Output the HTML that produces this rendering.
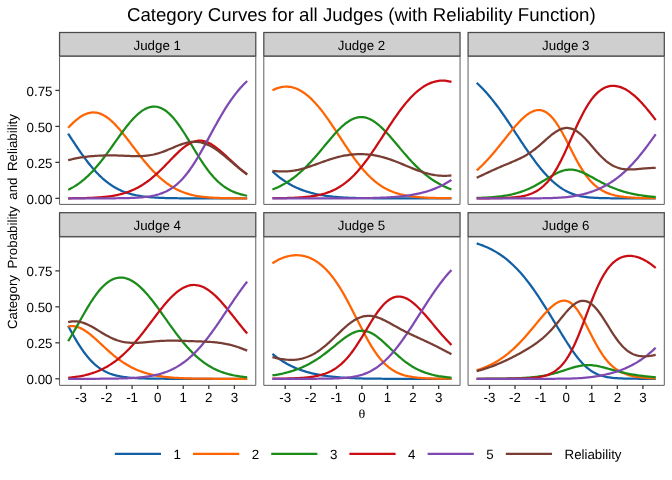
<!DOCTYPE html>
<html lang="en"><head><meta charset="utf-8"><title>Category Curves for all Judges</title>
<style>html,body{margin:0;padding:0;background:#fff}svg{display:block;will-change:transform}text{font-family:"Liberation Sans",Arial,Helvetica,sans-serif;fill:#000;text-rendering:geometricPrecision}.t{font-size:13.33px}.tk{font-size:13.33px}.c{fill:none;stroke-width:2.25;stroke-linejoin:round;stroke-linecap:butt}.th{font-family:"Liberation Serif","DejaVu Serif",serif;font-size:12.3px}</style></head><body>
<svg width="672" height="480" viewBox="0 0 672 480">
<rect width="672" height="480" fill="#fff"/>
<text x="361.3" y="20.8" text-anchor="middle" style="font-size:18.67px">Category Curves for all Judges (with Reliability Function)</text>
<text class="t" transform="translate(16.8,329.1) rotate(-90)" style="word-spacing:2.8px">Category Probability and Reliability</text>
<text class="th" transform="translate(362,418) scale(1.15,1)" text-anchor="middle">θ</text>
<rect x="59.55" y="32.5" width="196.23" height="23.56" fill="#cfcfcf" stroke="#4a4a4a" stroke-width="1.25"/>
<text class="t" x="157.27" y="49.96" text-anchor="middle">Judge 1</text>
<path class="c" stroke="#125fa4" d="M68.15 133.62 L69.43 135.60 L70.71 137.57 L71.99 139.53 L73.27 141.48 L74.55 143.42 L75.82 145.34 L77.10 147.25 L78.38 149.13 L79.66 151.00 L80.94 152.83 L82.22 154.64 L83.50 156.42 L84.78 158.16 L86.05 159.87 L87.33 161.55 L88.61 163.19 L89.89 164.79 L91.17 166.35 L92.45 167.87 L93.73 169.35 L95.01 170.79 L96.28 172.18 L97.56 173.52 L98.84 174.83 L100.12 176.08 L101.40 177.30 L102.68 178.47 L103.96 179.59 L105.24 180.67 L106.51 181.70 L107.79 182.69 L109.07 183.64 L110.35 184.54 L111.63 185.40 L112.91 186.23 L114.19 187.01 L115.47 187.75 L116.74 188.45 L118.02 189.12 L119.30 189.75 L120.58 190.35 L121.86 190.91 L123.14 191.44 L124.42 191.94 L125.70 192.41 L126.97 192.85 L128.25 193.27 L129.53 193.65 L130.81 194.02 L132.09 194.36 L133.37 194.67 L134.65 194.97 L135.93 195.24 L137.20 195.49 L138.48 195.73 L139.76 195.95 L141.04 196.15 L142.32 196.34 L143.60 196.52 L144.88 196.68 L146.16 196.83 L147.43 196.96 L148.71 197.09 L149.99 197.20 L151.27 197.31 L152.55 197.41 L153.83 197.50 L155.11 197.58 L156.39 197.65 L157.67 197.72 L158.94 197.78 L160.22 197.84 L161.50 197.89 L162.78 197.94 L164.06 197.98 L165.34 198.02 L166.62 198.05 L167.90 198.08 L169.17 198.11 L170.45 198.14 L171.73 198.16 L173.01 198.18 L174.29 198.20 L175.57 198.22 L176.85 198.23 L178.13 198.25 L179.40 198.26 L180.68 198.27 L181.96 198.28 L183.24 198.29 L184.52 198.30 L185.80 198.30 L187.08 198.31 L188.36 198.31 L189.63 198.32 L190.91 198.32 L192.19 198.33 L193.47 198.33 L194.75 198.33 L196.03 198.33 L197.31 198.34 L198.59 198.34 L199.86 198.34 L201.14 198.34 L202.42 198.34 L203.70 198.34 L204.98 198.34 L206.26 198.35 L207.54 198.35 L208.82 198.35 L210.09 198.35 L211.37 198.35 L212.65 198.35 L213.93 198.35 L215.21 198.35 L216.49 198.35 L217.77 198.35 L219.05 198.35 L220.32 198.35 L221.60 198.35 L222.88 198.35 L224.16 198.35 L225.44 198.35 L226.72 198.35 L228.00 198.35 L229.28 198.35 L230.55 198.35 L231.83 198.35 L233.11 198.35 L234.39 198.35 L235.67 198.35 L236.95 198.35 L238.23 198.35 L239.51 198.35 L240.78 198.35 L242.06 198.35 L243.34 198.35 L244.62 198.35 L245.90 198.35 L247.18 198.35"/>
<path class="c" stroke="#ff6403" d="M68.15 127.81 L69.43 126.46 L70.71 125.14 L71.99 123.87 L73.27 122.65 L74.55 121.49 L75.82 120.37 L77.10 119.32 L78.38 118.33 L79.66 117.41 L80.94 116.56 L82.22 115.78 L83.50 115.08 L84.78 114.46 L86.05 113.91 L87.33 113.45 L88.61 113.08 L89.89 112.79 L91.17 112.58 L92.45 112.47 L93.73 112.44 L95.01 112.51 L96.28 112.66 L97.56 112.91 L98.84 113.24 L100.12 113.66 L101.40 114.16 L102.68 114.76 L103.96 115.43 L105.24 116.19 L106.51 117.03 L107.79 117.94 L109.07 118.93 L110.35 119.99 L111.63 121.12 L112.91 122.31 L114.19 123.56 L115.47 124.87 L116.74 126.24 L118.02 127.65 L119.30 129.11 L120.58 130.61 L121.86 132.15 L123.14 133.73 L124.42 135.33 L125.70 136.95 L126.97 138.60 L128.25 140.26 L129.53 141.94 L130.81 143.62 L132.09 145.31 L133.37 147.00 L134.65 148.69 L135.93 150.38 L137.20 152.05 L138.48 153.71 L139.76 155.36 L141.04 156.99 L142.32 158.60 L143.60 160.18 L144.88 161.75 L146.16 163.28 L147.43 164.78 L148.71 166.26 L149.99 167.70 L151.27 169.11 L152.55 170.48 L153.83 171.82 L155.11 173.12 L156.39 174.39 L157.67 175.61 L158.94 176.80 L160.22 177.95 L161.50 179.06 L162.78 180.13 L164.06 181.17 L165.34 182.16 L166.62 183.12 L167.90 184.03 L169.17 184.91 L170.45 185.75 L171.73 186.56 L173.01 187.32 L174.29 188.05 L175.57 188.75 L176.85 189.41 L178.13 190.04 L179.40 190.63 L180.68 191.20 L181.96 191.73 L183.24 192.23 L184.52 192.70 L185.80 193.15 L187.08 193.56 L188.36 193.95 L189.63 194.32 L190.91 194.66 L192.19 194.97 L193.47 195.27 L194.75 195.54 L196.03 195.80 L197.31 196.03 L198.59 196.25 L199.86 196.45 L201.14 196.63 L202.42 196.80 L203.70 196.95 L204.98 197.09 L206.26 197.22 L207.54 197.34 L208.82 197.44 L210.09 197.54 L211.37 197.62 L212.65 197.70 L213.93 197.77 L215.21 197.84 L216.49 197.90 L217.77 197.95 L219.05 197.99 L220.32 198.03 L221.60 198.07 L222.88 198.10 L224.16 198.13 L225.44 198.16 L226.72 198.18 L228.00 198.20 L229.28 198.22 L230.55 198.24 L231.83 198.25 L233.11 198.26 L234.39 198.27 L235.67 198.28 L236.95 198.29 L238.23 198.30 L239.51 198.31 L240.78 198.31 L242.06 198.32 L243.34 198.32 L244.62 198.32 L245.90 198.33 L247.18 198.33"/>
<path class="c" stroke="#1b8c1a" d="M68.15 189.79 L69.43 189.18 L70.71 188.53 L71.99 187.85 L73.27 187.13 L74.55 186.37 L75.82 185.58 L77.10 184.74 L78.38 183.86 L79.66 182.95 L80.94 181.99 L82.22 180.98 L83.50 179.94 L84.78 178.85 L86.05 177.71 L87.33 176.54 L88.61 175.32 L89.89 174.05 L91.17 172.75 L92.45 171.40 L93.73 170.01 L95.01 168.58 L96.28 167.11 L97.56 165.60 L98.84 164.06 L100.12 162.48 L101.40 160.86 L102.68 159.22 L103.96 157.54 L105.24 155.84 L106.51 154.12 L107.79 152.37 L109.07 150.61 L110.35 148.83 L111.63 147.04 L112.91 145.25 L114.19 143.44 L115.47 141.64 L116.74 139.84 L118.02 138.05 L119.30 136.26 L120.58 134.50 L121.86 132.75 L123.14 131.02 L124.42 129.32 L125.70 127.66 L126.97 126.02 L128.25 124.43 L129.53 122.89 L130.81 121.39 L132.09 119.94 L133.37 118.55 L134.65 117.21 L135.93 115.95 L137.20 114.74 L138.48 113.61 L139.76 112.56 L141.04 111.57 L142.32 110.67 L143.60 109.86 L144.88 109.12 L146.16 108.48 L147.43 107.93 L148.71 107.47 L149.99 107.10 L151.27 106.83 L152.55 106.66 L153.83 106.59 L155.11 106.62 L156.39 106.75 L157.67 106.98 L158.94 107.32 L160.22 107.75 L161.50 108.29 L162.78 108.94 L164.06 109.68 L165.34 110.52 L166.62 111.47 L167.90 112.51 L169.17 113.64 L170.45 114.87 L171.73 116.19 L173.01 117.60 L174.29 119.09 L175.57 120.66 L176.85 122.30 L178.13 124.02 L179.40 125.80 L180.68 127.65 L181.96 129.55 L183.24 131.50 L184.52 133.49 L185.80 135.52 L187.08 137.59 L188.36 139.68 L189.63 141.78 L190.91 143.90 L192.19 146.02 L193.47 148.15 L194.75 150.26 L196.03 152.36 L197.31 154.44 L198.59 156.49 L199.86 158.51 L201.14 160.49 L202.42 162.44 L203.70 164.33 L204.98 166.18 L206.26 167.97 L207.54 169.71 L208.82 171.38 L210.09 173.00 L211.37 174.55 L212.65 176.04 L213.93 177.47 L215.21 178.83 L216.49 180.12 L217.77 181.35 L219.05 182.52 L220.32 183.62 L221.60 184.67 L222.88 185.65 L224.16 186.58 L225.44 187.45 L226.72 188.27 L228.00 189.03 L229.28 189.74 L230.55 190.41 L231.83 191.03 L233.11 191.61 L234.39 192.15 L235.67 192.65 L236.95 193.11 L238.23 193.54 L239.51 193.94 L240.78 194.30 L242.06 194.64 L243.34 194.95 L244.62 195.24 L245.90 195.51 L247.18 195.75"/>
<path class="c" stroke="#c90d13" d="M68.15 198.28 L69.43 198.27 L70.71 198.26 L71.99 198.25 L73.27 198.23 L74.55 198.22 L75.82 198.21 L77.10 198.19 L78.38 198.17 L79.66 198.15 L80.94 198.12 L82.22 198.10 L83.50 198.07 L84.78 198.04 L86.05 198.00 L87.33 197.96 L88.61 197.92 L89.89 197.87 L91.17 197.82 L92.45 197.76 L93.73 197.70 L95.01 197.64 L96.28 197.56 L97.56 197.48 L98.84 197.39 L100.12 197.30 L101.40 197.20 L102.68 197.08 L103.96 196.96 L105.24 196.83 L106.51 196.69 L107.79 196.53 L109.07 196.36 L110.35 196.19 L111.63 195.99 L112.91 195.78 L114.19 195.56 L115.47 195.32 L116.74 195.07 L118.02 194.79 L119.30 194.50 L120.58 194.19 L121.86 193.85 L123.14 193.50 L124.42 193.12 L125.70 192.72 L126.97 192.29 L128.25 191.84 L129.53 191.37 L130.81 190.86 L132.09 190.33 L133.37 189.77 L134.65 189.18 L135.93 188.56 L137.20 187.91 L138.48 187.22 L139.76 186.50 L141.04 185.75 L142.32 184.97 L143.60 184.15 L144.88 183.30 L146.16 182.42 L147.43 181.50 L148.71 180.54 L149.99 179.56 L151.27 178.53 L152.55 177.48 L153.83 176.39 L155.11 175.27 L156.39 174.12 L157.67 172.95 L158.94 171.74 L160.22 170.51 L161.50 169.26 L162.78 167.99 L164.06 166.69 L165.34 165.39 L166.62 164.07 L167.90 162.74 L169.17 161.41 L170.45 160.08 L171.73 158.76 L173.01 157.44 L174.29 156.13 L175.57 154.85 L176.85 153.59 L178.13 152.35 L179.40 151.16 L180.68 150.00 L181.96 148.89 L183.24 147.82 L184.52 146.82 L185.80 145.87 L187.08 144.99 L188.36 144.19 L189.63 143.45 L190.91 142.80 L192.19 142.23 L193.47 141.75 L194.75 141.35 L196.03 141.04 L197.31 140.83 L198.59 140.70 L199.86 140.67 L201.14 140.74 L202.42 140.89 L203.70 141.13 L204.98 141.46 L206.26 141.88 L207.54 142.37 L208.82 142.95 L210.09 143.60 L211.37 144.32 L212.65 145.10 L213.93 145.95 L215.21 146.85 L216.49 147.80 L217.77 148.80 L219.05 149.83 L220.32 150.91 L221.60 152.01 L222.88 153.14 L224.16 154.29 L225.44 155.45 L226.72 156.63 L228.00 157.81 L229.28 159.00 L230.55 160.19 L231.83 161.38 L233.11 162.55 L234.39 163.72 L235.67 164.88 L236.95 166.02 L238.23 167.14 L239.51 168.25 L240.78 169.34 L242.06 170.40 L243.34 171.44 L244.62 172.46 L245.90 173.45 L247.18 174.42"/>
<path class="c" stroke="#7e4ab2" d="M68.15 198.35 L69.43 198.35 L70.71 198.35 L71.99 198.35 L73.27 198.35 L74.55 198.35 L75.82 198.35 L77.10 198.35 L78.38 198.35 L79.66 198.35 L80.94 198.35 L82.22 198.35 L83.50 198.35 L84.78 198.35 L86.05 198.35 L87.33 198.35 L88.61 198.35 L89.89 198.35 L91.17 198.34 L92.45 198.34 L93.73 198.34 L95.01 198.34 L96.28 198.34 L97.56 198.34 L98.84 198.34 L100.12 198.33 L101.40 198.33 L102.68 198.33 L103.96 198.32 L105.24 198.32 L106.51 198.32 L107.79 198.31 L109.07 198.31 L110.35 198.30 L111.63 198.29 L112.91 198.28 L114.19 198.27 L115.47 198.26 L116.74 198.25 L118.02 198.24 L119.30 198.22 L120.58 198.21 L121.86 198.19 L123.14 198.16 L124.42 198.14 L125.70 198.11 L126.97 198.08 L128.25 198.04 L129.53 198.01 L130.81 197.96 L132.09 197.91 L133.37 197.86 L134.65 197.80 L135.93 197.73 L137.20 197.66 L138.48 197.57 L139.76 197.48 L141.04 197.38 L142.32 197.26 L143.60 197.14 L144.88 197.00 L146.16 196.85 L147.43 196.68 L148.71 196.49 L149.99 196.29 L151.27 196.06 L152.55 195.82 L153.83 195.55 L155.11 195.26 L156.39 194.94 L157.67 194.59 L158.94 194.21 L160.22 193.79 L161.50 193.34 L162.78 192.86 L164.06 192.33 L165.34 191.76 L166.62 191.15 L167.90 190.48 L169.17 189.77 L170.45 189.01 L171.73 188.19 L173.01 187.31 L174.29 186.38 L175.57 185.38 L176.85 184.32 L178.13 183.19 L179.40 182.00 L180.68 180.74 L181.96 179.41 L183.24 178.01 L184.52 176.54 L185.80 175.01 L187.08 173.40 L188.36 171.72 L189.63 169.98 L190.91 168.17 L192.19 166.29 L193.47 164.36 L194.75 162.37 L196.03 160.32 L197.31 158.22 L198.59 156.07 L199.86 153.88 L201.14 151.65 L202.42 149.38 L203.70 147.09 L204.98 144.77 L206.26 142.44 L207.54 140.09 L208.82 137.73 L210.09 135.37 L211.37 133.01 L212.65 130.66 L213.93 128.32 L215.21 125.99 L216.49 123.69 L217.77 121.41 L219.05 119.16 L220.32 116.94 L221.60 114.75 L222.88 112.61 L224.16 110.50 L225.44 108.44 L226.72 106.42 L228.00 104.45 L229.28 102.53 L230.55 100.66 L231.83 98.84 L233.11 97.07 L234.39 95.36 L235.67 93.69 L236.95 92.08 L238.23 90.52 L239.51 89.01 L240.78 87.55 L242.06 86.14 L243.34 84.78 L244.62 83.47 L245.90 82.21 L247.18 81.00"/>
<path class="c" stroke="#783d33" d="M68.15 160.28 L69.43 159.93 L70.71 159.59 L71.99 159.27 L73.27 158.97 L74.55 158.68 L75.82 158.41 L77.10 158.16 L78.38 157.92 L79.66 157.69 L80.94 157.48 L82.22 157.28 L83.50 157.10 L84.78 156.92 L86.05 156.76 L87.33 156.61 L88.61 156.47 L89.89 156.34 L91.17 156.22 L92.45 156.11 L93.73 156.01 L95.01 155.92 L96.28 155.83 L97.56 155.75 L98.84 155.69 L100.12 155.63 L101.40 155.57 L102.68 155.53 L103.96 155.49 L105.24 155.46 L106.51 155.43 L107.79 155.42 L109.07 155.41 L110.35 155.40 L111.63 155.41 L112.91 155.42 L114.19 155.44 L115.47 155.46 L116.74 155.49 L118.02 155.52 L119.30 155.56 L120.58 155.61 L121.86 155.66 L123.14 155.71 L124.42 155.76 L125.70 155.81 L126.97 155.87 L128.25 155.92 L129.53 155.97 L130.81 156.02 L132.09 156.06 L133.37 156.09 L134.65 156.12 L135.93 156.14 L137.20 156.14 L138.48 156.13 L139.76 156.11 L141.04 156.07 L142.32 156.02 L143.60 155.94 L144.88 155.85 L146.16 155.73 L147.43 155.59 L148.71 155.42 L149.99 155.23 L151.27 155.01 L152.55 154.76 L153.83 154.49 L155.11 154.19 L156.39 153.86 L157.67 153.50 L158.94 153.12 L160.22 152.71 L161.50 152.28 L162.78 151.83 L164.06 151.36 L165.34 150.86 L166.62 150.35 L167.90 149.83 L169.17 149.30 L170.45 148.76 L171.73 148.21 L173.01 147.67 L174.29 147.12 L175.57 146.58 L176.85 146.06 L178.13 145.55 L179.40 145.05 L180.68 144.58 L181.96 144.13 L183.24 143.71 L184.52 143.32 L185.80 142.97 L187.08 142.66 L188.36 142.39 L189.63 142.17 L190.91 141.99 L192.19 141.86 L193.47 141.78 L194.75 141.76 L196.03 141.79 L197.31 141.88 L198.59 142.02 L199.86 142.23 L201.14 142.48 L202.42 142.80 L203.70 143.18 L204.98 143.61 L206.26 144.09 L207.54 144.63 L208.82 145.23 L210.09 145.87 L211.37 146.57 L212.65 147.31 L213.93 148.09 L215.21 148.92 L216.49 149.79 L217.77 150.69 L219.05 151.63 L220.32 152.59 L221.60 153.59 L222.88 154.60 L224.16 155.64 L225.44 156.70 L226.72 157.77 L228.00 158.85 L229.28 159.93 L230.55 161.03 L231.83 162.12 L233.11 163.21 L234.39 164.30 L235.67 165.38 L236.95 166.46 L238.23 167.52 L239.51 168.57 L240.78 169.60 L242.06 170.62 L243.34 171.62 L244.62 172.60 L245.90 173.56 L247.18 174.50"/>
<path d="M59.55 56.36V204.4H255.78V56.36Z" fill="none" stroke="#5e5e5e" stroke-width="1"/>
<path d="M55.35 198.35H59.55" stroke="#383838" stroke-width="1.3" fill="none"/>
<text class="tk" x="52.5" y="203.85" text-anchor="end">0.00</text>
<path d="M55.35 162.38H59.55" stroke="#383838" stroke-width="1.3" fill="none"/>
<text class="tk" x="52.5" y="167.88" text-anchor="end">0.25</text>
<path d="M55.35 126.4H59.55" stroke="#383838" stroke-width="1.3" fill="none"/>
<text class="tk" x="52.5" y="131.9" text-anchor="end">0.50</text>
<path d="M55.35 90.42H59.55" stroke="#383838" stroke-width="1.3" fill="none"/>
<text class="tk" x="52.5" y="95.92" text-anchor="end">0.75</text>
<rect x="263.81" y="32.5" width="196.23" height="23.56" fill="#cfcfcf" stroke="#4a4a4a" stroke-width="1.25"/>
<text class="t" x="361.53" y="49.96" text-anchor="middle">Judge 2</text>
<path class="c" stroke="#125fa4" d="M272.41 171.34 L273.69 172.51 L274.97 173.63 L276.25 174.73 L277.53 175.78 L278.81 176.81 L280.08 177.79 L281.36 178.75 L282.64 179.67 L283.92 180.55 L285.20 181.41 L286.48 182.23 L287.76 183.02 L289.04 183.79 L290.31 184.52 L291.59 185.22 L292.87 185.90 L294.15 186.54 L295.43 187.16 L296.71 187.76 L297.99 188.32 L299.27 188.87 L300.54 189.39 L301.82 189.88 L303.10 190.36 L304.38 190.81 L305.66 191.24 L306.94 191.65 L308.22 192.05 L309.50 192.42 L310.77 192.77 L312.05 193.11 L313.33 193.43 L314.61 193.74 L315.89 194.03 L317.17 194.30 L318.45 194.56 L319.73 194.80 L321.00 195.04 L322.28 195.26 L323.56 195.46 L324.84 195.66 L326.12 195.85 L327.40 196.02 L328.68 196.18 L329.96 196.34 L331.23 196.48 L332.51 196.62 L333.79 196.75 L335.07 196.87 L336.35 196.98 L337.63 197.08 L338.91 197.18 L340.19 197.27 L341.46 197.36 L342.74 197.44 L344.02 197.51 L345.30 197.58 L346.58 197.65 L347.86 197.71 L349.14 197.76 L350.42 197.81 L351.69 197.86 L352.97 197.90 L354.25 197.94 L355.53 197.98 L356.81 198.01 L358.09 198.04 L359.37 198.07 L360.65 198.10 L361.93 198.12 L363.20 198.14 L364.48 198.16 L365.76 198.18 L367.04 198.20 L368.32 198.21 L369.60 198.23 L370.88 198.24 L372.16 198.25 L373.43 198.26 L374.71 198.27 L375.99 198.28 L377.27 198.29 L378.55 198.29 L379.83 198.30 L381.11 198.31 L382.39 198.31 L383.66 198.31 L384.94 198.32 L386.22 198.32 L387.50 198.33 L388.78 198.33 L390.06 198.33 L391.34 198.33 L392.62 198.34 L393.89 198.34 L395.17 198.34 L396.45 198.34 L397.73 198.34 L399.01 198.34 L400.29 198.34 L401.57 198.34 L402.85 198.34 L404.12 198.35 L405.40 198.35 L406.68 198.35 L407.96 198.35 L409.24 198.35 L410.52 198.35 L411.80 198.35 L413.08 198.35 L414.35 198.35 L415.63 198.35 L416.91 198.35 L418.19 198.35 L419.47 198.35 L420.75 198.35 L422.03 198.35 L423.31 198.35 L424.58 198.35 L425.86 198.35 L427.14 198.35 L428.42 198.35 L429.70 198.35 L430.98 198.35 L432.26 198.35 L433.54 198.35 L434.81 198.35 L436.09 198.35 L437.37 198.35 L438.65 198.35 L439.93 198.35 L441.21 198.35 L442.49 198.35 L443.77 198.35 L445.04 198.35 L446.32 198.35 L447.60 198.35 L448.88 198.35 L450.16 198.35 L451.44 198.35"/>
<path class="c" stroke="#ff6403" d="M272.41 90.35 L273.69 89.70 L274.97 89.12 L276.25 88.59 L277.53 88.13 L278.81 87.73 L280.08 87.39 L281.36 87.11 L282.64 86.90 L283.92 86.75 L285.20 86.66 L286.48 86.64 L287.76 86.69 L289.04 86.79 L290.31 86.97 L291.59 87.20 L292.87 87.51 L294.15 87.87 L295.43 88.30 L296.71 88.80 L297.99 89.36 L299.27 89.98 L300.54 90.67 L301.82 91.42 L303.10 92.24 L304.38 93.12 L305.66 94.05 L306.94 95.05 L308.22 96.11 L309.50 97.23 L310.77 98.41 L312.05 99.65 L313.33 100.94 L314.61 102.29 L315.89 103.69 L317.17 105.14 L318.45 106.64 L319.73 108.19 L321.00 109.78 L322.28 111.42 L323.56 113.10 L324.84 114.82 L326.12 116.58 L327.40 118.37 L328.68 120.19 L329.96 122.04 L331.23 123.91 L332.51 125.81 L333.79 127.73 L335.07 129.66 L336.35 131.60 L337.63 133.56 L338.91 135.52 L340.19 137.48 L341.46 139.44 L342.74 141.40 L344.02 143.35 L345.30 145.29 L346.58 147.21 L347.86 149.12 L349.14 151.00 L350.42 152.87 L351.69 154.71 L352.97 156.52 L354.25 158.29 L355.53 160.04 L356.81 161.75 L358.09 163.42 L359.37 165.05 L360.65 166.64 L361.93 168.19 L363.20 169.70 L364.48 171.16 L365.76 172.57 L367.04 173.94 L368.32 175.26 L369.60 176.53 L370.88 177.76 L372.16 178.93 L373.43 180.06 L374.71 181.15 L375.99 182.18 L377.27 183.17 L378.55 184.11 L379.83 185.01 L381.11 185.87 L382.39 186.68 L383.66 187.45 L384.94 188.18 L386.22 188.87 L387.50 189.52 L388.78 190.14 L390.06 190.71 L391.34 191.26 L392.62 191.77 L393.89 192.25 L395.17 192.70 L396.45 193.12 L397.73 193.52 L399.01 193.89 L400.29 194.23 L401.57 194.55 L402.85 194.85 L404.12 195.13 L405.40 195.38 L406.68 195.62 L407.96 195.84 L409.24 196.05 L410.52 196.24 L411.80 196.41 L413.08 196.58 L414.35 196.73 L415.63 196.86 L416.91 196.99 L418.19 197.11 L419.47 197.22 L420.75 197.31 L422.03 197.40 L423.31 197.49 L424.58 197.56 L425.86 197.63 L427.14 197.70 L428.42 197.76 L429.70 197.81 L430.98 197.86 L432.26 197.90 L433.54 197.95 L434.81 197.98 L436.09 198.02 L437.37 198.05 L438.65 198.08 L439.93 198.10 L441.21 198.13 L442.49 198.15 L443.77 198.17 L445.04 198.18 L446.32 198.20 L447.60 198.21 L448.88 198.23 L450.16 198.24 L451.44 198.25"/>
<path class="c" stroke="#1b8c1a" d="M272.41 189.56 L273.69 189.06 L274.97 188.53 L276.25 187.98 L277.53 187.40 L278.81 186.79 L280.08 186.17 L281.36 185.51 L282.64 184.82 L283.92 184.11 L285.20 183.37 L286.48 182.60 L287.76 181.80 L289.04 180.97 L290.31 180.10 L291.59 179.21 L292.87 178.28 L294.15 177.32 L295.43 176.33 L296.71 175.31 L297.99 174.25 L299.27 173.16 L300.54 172.03 L301.82 170.88 L303.10 169.69 L304.38 168.47 L305.66 167.22 L306.94 165.94 L308.22 164.62 L309.50 163.28 L310.77 161.91 L312.05 160.52 L313.33 159.10 L314.61 157.66 L315.89 156.20 L317.17 154.71 L318.45 153.22 L319.73 151.70 L321.00 150.18 L322.28 148.65 L323.56 147.11 L324.84 145.57 L326.12 144.03 L327.40 142.49 L328.68 140.97 L329.96 139.45 L331.23 137.95 L332.51 136.48 L333.79 135.02 L335.07 133.60 L336.35 132.20 L337.63 130.85 L338.91 129.53 L340.19 128.26 L341.46 127.04 L342.74 125.88 L344.02 124.77 L345.30 123.72 L346.58 122.74 L347.86 121.83 L349.14 120.99 L350.42 120.22 L351.69 119.54 L352.97 118.93 L354.25 118.41 L355.53 117.97 L356.81 117.62 L358.09 117.36 L359.37 117.19 L360.65 117.10 L361.93 117.11 L363.20 117.20 L364.48 117.39 L365.76 117.66 L367.04 118.03 L368.32 118.47 L369.60 119.01 L370.88 119.62 L372.16 120.32 L373.43 121.09 L374.71 121.94 L375.99 122.85 L377.27 123.84 L378.55 124.89 L379.83 126.00 L381.11 127.16 L382.39 128.38 L383.66 129.65 L384.94 130.96 L386.22 132.31 L387.50 133.69 L388.78 135.11 L390.06 136.56 L391.34 138.02 L392.62 139.51 L393.89 141.01 L395.17 142.52 L396.45 144.04 L397.73 145.56 L399.01 147.09 L400.29 148.61 L401.57 150.12 L402.85 151.63 L404.12 153.12 L405.40 154.60 L406.68 156.06 L407.96 157.50 L409.24 158.92 L410.52 160.32 L411.80 161.69 L413.08 163.04 L414.35 164.36 L415.63 165.65 L416.91 166.91 L418.19 168.14 L419.47 169.34 L420.75 170.51 L422.03 171.65 L423.31 172.76 L424.58 173.83 L425.86 174.87 L427.14 175.88 L428.42 176.86 L429.70 177.80 L430.98 178.71 L432.26 179.60 L433.54 180.45 L434.81 181.27 L436.09 182.06 L437.37 182.82 L438.65 183.55 L439.93 184.26 L441.21 184.94 L442.49 185.59 L443.77 186.21 L445.04 186.81 L446.32 187.39 L447.60 187.94 L448.88 188.47 L450.16 188.98 L451.44 189.46"/>
<path class="c" stroke="#c90d13" d="M272.41 198.25 L273.69 198.23 L274.97 198.22 L276.25 198.21 L277.53 198.19 L278.81 198.17 L280.08 198.15 L281.36 198.13 L282.64 198.11 L283.92 198.08 L285.20 198.06 L286.48 198.02 L287.76 197.99 L289.04 197.95 L290.31 197.91 L291.59 197.87 L292.87 197.82 L294.15 197.76 L295.43 197.70 L296.71 197.64 L297.99 197.57 L299.27 197.49 L300.54 197.41 L301.82 197.31 L303.10 197.21 L304.38 197.10 L305.66 196.99 L306.94 196.86 L308.22 196.72 L309.50 196.57 L310.77 196.40 L312.05 196.22 L313.33 196.03 L314.61 195.82 L315.89 195.60 L317.17 195.35 L318.45 195.09 L319.73 194.81 L321.00 194.51 L322.28 194.18 L323.56 193.83 L324.84 193.46 L326.12 193.05 L327.40 192.63 L328.68 192.17 L329.96 191.68 L331.23 191.16 L332.51 190.60 L333.79 190.02 L335.07 189.39 L336.35 188.73 L337.63 188.03 L338.91 187.29 L340.19 186.51 L341.46 185.68 L342.74 184.82 L344.02 183.90 L345.30 182.95 L346.58 181.95 L347.86 180.90 L349.14 179.80 L350.42 178.66 L351.69 177.46 L352.97 176.22 L354.25 174.94 L355.53 173.60 L356.81 172.22 L358.09 170.79 L359.37 169.32 L360.65 167.80 L361.93 166.23 L363.20 164.62 L364.48 162.98 L365.76 161.29 L367.04 159.56 L368.32 157.80 L369.60 156.01 L370.88 154.18 L372.16 152.33 L373.43 150.45 L374.71 148.54 L375.99 146.62 L377.27 144.67 L378.55 142.72 L379.83 140.75 L381.11 138.77 L382.39 136.79 L383.66 134.80 L384.94 132.82 L386.22 130.84 L387.50 128.87 L388.78 126.91 L390.06 124.96 L391.34 123.03 L392.62 121.12 L393.89 119.23 L395.17 117.36 L396.45 115.53 L397.73 113.73 L399.01 111.95 L400.29 110.22 L401.57 108.52 L402.85 106.86 L404.12 105.24 L405.40 103.66 L406.68 102.13 L407.96 100.65 L409.24 99.21 L410.52 97.82 L411.80 96.49 L413.08 95.20 L414.35 93.96 L415.63 92.78 L416.91 91.65 L418.19 90.57 L419.47 89.55 L420.75 88.58 L422.03 87.67 L423.31 86.81 L424.58 86.01 L425.86 85.27 L427.14 84.57 L428.42 83.94 L429.70 83.36 L430.98 82.84 L432.26 82.37 L433.54 81.96 L434.81 81.60 L436.09 81.30 L437.37 81.05 L438.65 80.86 L439.93 80.72 L441.21 80.64 L442.49 80.62 L443.77 80.65 L445.04 80.73 L446.32 80.87 L447.60 81.06 L448.88 81.31 L450.16 81.61 L451.44 81.96"/>
<path class="c" stroke="#7e4ab2" d="M272.41 198.35 L273.69 198.35 L274.97 198.35 L276.25 198.35 L277.53 198.35 L278.81 198.35 L280.08 198.35 L281.36 198.35 L282.64 198.35 L283.92 198.35 L285.20 198.35 L286.48 198.35 L287.76 198.35 L289.04 198.35 L290.31 198.35 L291.59 198.35 L292.87 198.35 L294.15 198.35 L295.43 198.35 L296.71 198.35 L297.99 198.35 L299.27 198.35 L300.54 198.35 L301.82 198.35 L303.10 198.35 L304.38 198.35 L305.66 198.35 L306.94 198.35 L308.22 198.35 L309.50 198.35 L310.77 198.35 L312.05 198.35 L313.33 198.35 L314.61 198.35 L315.89 198.35 L317.17 198.35 L318.45 198.35 L319.73 198.35 L321.00 198.35 L322.28 198.35 L323.56 198.35 L324.84 198.34 L326.12 198.34 L327.40 198.34 L328.68 198.34 L329.96 198.34 L331.23 198.34 L332.51 198.34 L333.79 198.34 L335.07 198.33 L336.35 198.33 L337.63 198.33 L338.91 198.33 L340.19 198.33 L341.46 198.32 L342.74 198.32 L344.02 198.32 L345.30 198.31 L346.58 198.31 L347.86 198.30 L349.14 198.30 L350.42 198.29 L351.69 198.28 L352.97 198.28 L354.25 198.27 L355.53 198.26 L356.81 198.25 L358.09 198.24 L359.37 198.22 L360.65 198.21 L361.93 198.20 L363.20 198.18 L364.48 198.16 L365.76 198.14 L367.04 198.12 L368.32 198.10 L369.60 198.08 L370.88 198.05 L372.16 198.02 L373.43 197.99 L374.71 197.96 L375.99 197.92 L377.27 197.88 L378.55 197.84 L379.83 197.79 L381.11 197.74 L382.39 197.69 L383.66 197.64 L384.94 197.58 L386.22 197.51 L387.50 197.44 L388.78 197.37 L390.06 197.29 L391.34 197.21 L392.62 197.12 L393.89 197.02 L395.17 196.92 L396.45 196.81 L397.73 196.70 L399.01 196.58 L400.29 196.45 L401.57 196.32 L402.85 196.17 L404.12 196.02 L405.40 195.86 L406.68 195.69 L407.96 195.51 L409.24 195.32 L410.52 195.12 L411.80 194.91 L413.08 194.69 L414.35 194.45 L415.63 194.21 L416.91 193.95 L418.19 193.68 L419.47 193.39 L420.75 193.09 L422.03 192.77 L423.31 192.44 L424.58 192.09 L425.86 191.73 L427.14 191.35 L428.42 190.95 L429.70 190.53 L430.98 190.09 L432.26 189.63 L433.54 189.15 L434.81 188.65 L436.09 188.13 L437.37 187.58 L438.65 187.01 L439.93 186.41 L441.21 185.79 L442.49 185.15 L443.77 184.47 L445.04 183.77 L446.32 183.04 L447.60 182.28 L448.88 181.50 L450.16 180.68 L451.44 179.83"/>
<path class="c" stroke="#783d33" d="M272.41 170.87 L273.69 171.01 L274.97 171.13 L276.25 171.24 L277.53 171.33 L278.81 171.40 L280.08 171.45 L281.36 171.48 L282.64 171.49 L283.92 171.48 L285.20 171.45 L286.48 171.39 L287.76 171.31 L289.04 171.21 L290.31 171.08 L291.59 170.93 L292.87 170.76 L294.15 170.56 L295.43 170.34 L296.71 170.10 L297.99 169.84 L299.27 169.55 L300.54 169.24 L301.82 168.92 L303.10 168.57 L304.38 168.21 L305.66 167.83 L306.94 167.44 L308.22 167.03 L309.50 166.62 L310.77 166.19 L312.05 165.75 L313.33 165.30 L314.61 164.84 L315.89 164.38 L317.17 163.92 L318.45 163.46 L319.73 162.99 L321.00 162.53 L322.28 162.06 L323.56 161.60 L324.84 161.15 L326.12 160.70 L327.40 160.27 L328.68 159.84 L329.96 159.42 L331.23 159.01 L332.51 158.61 L333.79 158.23 L335.07 157.86 L336.35 157.50 L337.63 157.16 L338.91 156.84 L340.19 156.53 L341.46 156.24 L342.74 155.97 L344.02 155.72 L345.30 155.48 L346.58 155.27 L347.86 155.07 L349.14 154.89 L350.42 154.73 L351.69 154.59 L352.97 154.46 L354.25 154.36 L355.53 154.28 L356.81 154.21 L358.09 154.17 L359.37 154.15 L360.65 154.14 L361.93 154.16 L363.20 154.19 L364.48 154.25 L365.76 154.32 L367.04 154.41 L368.32 154.53 L369.60 154.66 L370.88 154.82 L372.16 154.99 L373.43 155.18 L374.71 155.40 L375.99 155.63 L377.27 155.88 L378.55 156.15 L379.83 156.45 L381.11 156.76 L382.39 157.08 L383.66 157.43 L384.94 157.80 L386.22 158.18 L387.50 158.58 L388.78 158.99 L390.06 159.42 L391.34 159.87 L392.62 160.33 L393.89 160.80 L395.17 161.28 L396.45 161.78 L397.73 162.28 L399.01 162.80 L400.29 163.32 L401.57 163.84 L402.85 164.37 L404.12 164.91 L405.40 165.44 L406.68 165.98 L407.96 166.52 L409.24 167.05 L410.52 167.58 L411.80 168.10 L413.08 168.62 L414.35 169.13 L415.63 169.62 L416.91 170.11 L418.19 170.58 L419.47 171.04 L420.75 171.49 L422.03 171.92 L423.31 172.33 L424.58 172.72 L425.86 173.09 L427.14 173.44 L428.42 173.77 L429.70 174.07 L430.98 174.36 L432.26 174.61 L433.54 174.85 L434.81 175.06 L436.09 175.24 L437.37 175.40 L438.65 175.53 L439.93 175.64 L441.21 175.72 L442.49 175.77 L443.77 175.80 L445.04 175.81 L446.32 175.79 L447.60 175.75 L448.88 175.68 L450.16 175.59 L451.44 175.48"/>
<path d="M263.81 56.36V204.4H460.04V56.36Z" fill="none" stroke="#5e5e5e" stroke-width="1"/>
<rect x="468.07" y="32.5" width="196.23" height="23.56" fill="#cfcfcf" stroke="#4a4a4a" stroke-width="1.25"/>
<text class="t" x="565.79" y="49.96" text-anchor="middle">Judge 3</text>
<path class="c" stroke="#125fa4" d="M476.67 82.81 L477.95 83.98 L479.23 85.20 L480.51 86.45 L481.79 87.73 L483.07 89.05 L484.34 90.41 L485.62 91.81 L486.90 93.25 L488.18 94.72 L489.46 96.22 L490.74 97.76 L492.02 99.34 L493.30 100.95 L494.57 102.59 L495.85 104.26 L497.13 105.96 L498.41 107.69 L499.69 109.45 L500.97 111.24 L502.25 113.05 L503.53 114.88 L504.80 116.74 L506.08 118.61 L507.36 120.50 L508.64 122.41 L509.92 124.32 L511.20 126.25 L512.48 128.19 L513.76 130.13 L515.03 132.08 L516.31 134.02 L517.59 135.97 L518.87 137.91 L520.15 139.85 L521.43 141.78 L522.71 143.70 L523.99 145.61 L525.26 147.51 L526.54 149.38 L527.82 151.24 L529.10 153.08 L530.38 154.90 L531.66 156.69 L532.94 158.46 L534.22 160.20 L535.49 161.90 L536.77 163.58 L538.05 165.23 L539.33 166.84 L540.61 168.42 L541.89 169.96 L543.17 171.46 L544.45 172.93 L545.72 174.35 L547.00 175.74 L548.28 177.08 L549.56 178.38 L550.84 179.63 L552.12 180.84 L553.40 182.00 L554.68 183.12 L555.95 184.19 L557.23 185.22 L558.51 186.19 L559.79 187.12 L561.07 188.00 L562.35 188.84 L563.63 189.63 L564.91 190.37 L566.19 191.06 L567.46 191.72 L568.74 192.32 L570.02 192.89 L571.30 193.41 L572.58 193.90 L573.86 194.34 L575.14 194.75 L576.42 195.13 L577.69 195.47 L578.97 195.78 L580.25 196.06 L581.53 196.32 L582.81 196.55 L584.09 196.76 L585.37 196.94 L586.65 197.11 L587.92 197.26 L589.20 197.39 L590.48 197.51 L591.76 197.61 L593.04 197.70 L594.32 197.79 L595.60 197.86 L596.88 197.92 L598.15 197.98 L599.43 198.03 L600.71 198.07 L601.99 198.11 L603.27 198.14 L604.55 198.17 L605.83 198.19 L607.11 198.21 L608.38 198.23 L609.66 198.25 L610.94 198.26 L612.22 198.27 L613.50 198.28 L614.78 198.29 L616.06 198.30 L617.34 198.31 L618.61 198.31 L619.89 198.32 L621.17 198.32 L622.45 198.33 L623.73 198.33 L625.01 198.33 L626.29 198.34 L627.57 198.34 L628.84 198.34 L630.12 198.34 L631.40 198.34 L632.68 198.34 L633.96 198.34 L635.24 198.35 L636.52 198.35 L637.80 198.35 L639.07 198.35 L640.35 198.35 L641.63 198.35 L642.91 198.35 L644.19 198.35 L645.47 198.35 L646.75 198.35 L648.03 198.35 L649.30 198.35 L650.58 198.35 L651.86 198.35 L653.14 198.35 L654.42 198.35 L655.70 198.35"/>
<path class="c" stroke="#ff6403" d="M476.67 170.42 L477.95 169.29 L479.23 168.12 L480.51 166.92 L481.79 165.69 L483.07 164.43 L484.34 163.13 L485.62 161.81 L486.90 160.45 L488.18 159.06 L489.46 157.65 L490.74 156.21 L492.02 154.74 L493.30 153.25 L494.57 151.74 L495.85 150.20 L497.13 148.65 L498.41 147.08 L499.69 145.50 L500.97 143.91 L502.25 142.30 L503.53 140.70 L504.80 139.09 L506.08 137.48 L507.36 135.87 L508.64 134.28 L509.92 132.69 L511.20 131.13 L512.48 129.58 L513.76 128.05 L515.03 126.56 L516.31 125.09 L517.59 123.67 L518.87 122.28 L520.15 120.95 L521.43 119.67 L522.71 118.44 L523.99 117.28 L525.26 116.18 L526.54 115.16 L527.82 114.21 L529.10 113.35 L530.38 112.58 L531.66 111.90 L532.94 111.32 L534.22 110.85 L535.49 110.48 L536.77 110.23 L538.05 110.10 L539.33 110.10 L540.61 110.22 L541.89 110.47 L543.17 110.85 L544.45 111.38 L545.72 112.04 L547.00 112.85 L548.28 113.79 L549.56 114.88 L550.84 116.11 L552.12 117.48 L553.40 118.98 L554.68 120.62 L555.95 122.38 L557.23 124.26 L558.51 126.26 L559.79 128.36 L561.07 130.55 L562.35 132.82 L563.63 135.17 L564.91 137.58 L566.19 140.03 L567.46 142.52 L568.74 145.04 L570.02 147.55 L571.30 150.07 L572.58 152.57 L573.86 155.04 L575.14 157.47 L576.42 159.85 L577.69 162.17 L578.97 164.42 L580.25 166.60 L581.53 168.70 L582.81 170.72 L584.09 172.64 L585.37 174.48 L586.65 176.23 L587.92 177.88 L589.20 179.44 L590.48 180.90 L591.76 182.28 L593.04 183.57 L594.32 184.78 L595.60 185.90 L596.88 186.94 L598.15 187.91 L599.43 188.81 L600.71 189.64 L601.99 190.41 L603.27 191.11 L604.55 191.76 L605.83 192.36 L607.11 192.91 L608.38 193.41 L609.66 193.87 L610.94 194.29 L612.22 194.67 L613.50 195.02 L614.78 195.34 L616.06 195.63 L617.34 195.89 L618.61 196.13 L619.89 196.35 L621.17 196.55 L622.45 196.73 L623.73 196.89 L625.01 197.04 L626.29 197.17 L627.57 197.29 L628.84 197.40 L630.12 197.49 L631.40 197.58 L632.68 197.66 L633.96 197.73 L635.24 197.80 L636.52 197.86 L637.80 197.91 L639.07 197.96 L640.35 198.00 L641.63 198.04 L642.91 198.07 L644.19 198.10 L645.47 198.13 L646.75 198.15 L648.03 198.17 L649.30 198.19 L650.58 198.21 L651.86 198.23 L653.14 198.24 L654.42 198.25 L655.70 198.26"/>
<path class="c" stroke="#1b8c1a" d="M476.67 197.94 L477.95 197.90 L479.23 197.86 L480.51 197.81 L481.79 197.76 L483.07 197.71 L484.34 197.65 L485.62 197.59 L486.90 197.52 L488.18 197.44 L489.46 197.36 L490.74 197.28 L492.02 197.18 L493.30 197.08 L494.57 196.97 L495.85 196.85 L497.13 196.72 L498.41 196.59 L499.69 196.44 L500.97 196.28 L502.25 196.11 L503.53 195.93 L504.80 195.73 L506.08 195.52 L507.36 195.30 L508.64 195.06 L509.92 194.81 L511.20 194.54 L512.48 194.25 L513.76 193.94 L515.03 193.62 L516.31 193.28 L517.59 192.91 L518.87 192.53 L520.15 192.12 L521.43 191.69 L522.71 191.24 L523.99 190.77 L525.26 190.27 L526.54 189.76 L527.82 189.21 L529.10 188.65 L530.38 188.05 L531.66 187.44 L532.94 186.81 L534.22 186.15 L535.49 185.47 L536.77 184.77 L538.05 184.05 L539.33 183.32 L540.61 182.57 L541.89 181.81 L543.17 181.03 L544.45 180.26 L545.72 179.47 L547.00 178.69 L548.28 177.91 L549.56 177.14 L550.84 176.38 L552.12 175.64 L553.40 174.92 L554.68 174.22 L555.95 173.56 L557.23 172.94 L558.51 172.35 L559.79 171.82 L561.07 171.33 L562.35 170.90 L563.63 170.52 L564.91 170.21 L566.19 169.96 L567.46 169.78 L568.74 169.67 L570.02 169.62 L571.30 169.65 L572.58 169.74 L573.86 169.89 L575.14 170.11 L576.42 170.39 L577.69 170.73 L578.97 171.12 L580.25 171.57 L581.53 172.05 L582.81 172.59 L584.09 173.15 L585.37 173.75 L586.65 174.38 L587.92 175.04 L589.20 175.71 L590.48 176.39 L591.76 177.09 L593.04 177.79 L594.32 178.50 L595.60 179.21 L596.88 179.92 L598.15 180.62 L599.43 181.31 L600.71 182.00 L601.99 182.67 L603.27 183.33 L604.55 183.98 L605.83 184.61 L607.11 185.23 L608.38 185.83 L609.66 186.41 L610.94 186.97 L612.22 187.51 L613.50 188.04 L614.78 188.55 L616.06 189.04 L617.34 189.51 L618.61 189.96 L619.89 190.40 L621.17 190.82 L622.45 191.22 L623.73 191.60 L625.01 191.97 L626.29 192.32 L627.57 192.65 L628.84 192.97 L630.12 193.28 L631.40 193.57 L632.68 193.85 L633.96 194.11 L635.24 194.36 L636.52 194.60 L637.80 194.82 L639.07 195.04 L640.35 195.24 L641.63 195.44 L642.91 195.62 L644.19 195.79 L645.47 195.96 L646.75 196.11 L648.03 196.26 L649.30 196.39 L650.58 196.52 L651.86 196.65 L653.14 196.76 L654.42 196.87 L655.70 196.97"/>
<path class="c" stroke="#c90d13" d="M476.67 198.33 L477.95 198.33 L479.23 198.32 L480.51 198.32 L481.79 198.31 L483.07 198.31 L484.34 198.30 L485.62 198.29 L486.90 198.29 L488.18 198.28 L489.46 198.27 L490.74 198.25 L492.02 198.24 L493.30 198.22 L494.57 198.21 L495.85 198.19 L497.13 198.16 L498.41 198.14 L499.69 198.11 L500.97 198.07 L502.25 198.03 L503.53 197.99 L504.80 197.94 L506.08 197.89 L507.36 197.83 L508.64 197.76 L509.92 197.68 L511.20 197.59 L512.48 197.49 L513.76 197.38 L515.03 197.25 L516.31 197.11 L517.59 196.95 L518.87 196.78 L520.15 196.58 L521.43 196.37 L522.71 196.12 L523.99 195.85 L525.26 195.55 L526.54 195.22 L527.82 194.85 L529.10 194.44 L530.38 193.99 L531.66 193.50 L532.94 192.95 L534.22 192.35 L535.49 191.69 L536.77 190.97 L538.05 190.18 L539.33 189.32 L540.61 188.39 L541.89 187.37 L543.17 186.27 L544.45 185.08 L545.72 183.79 L547.00 182.41 L548.28 180.93 L549.56 179.35 L550.84 177.66 L552.12 175.86 L553.40 173.96 L554.68 171.95 L555.95 169.84 L557.23 167.62 L558.51 165.30 L559.79 162.89 L561.07 160.39 L562.35 157.80 L563.63 155.14 L564.91 152.42 L566.19 149.64 L567.46 146.82 L568.74 143.96 L570.02 141.08 L571.30 138.19 L572.58 135.30 L573.86 132.43 L575.14 129.58 L576.42 126.78 L577.69 124.02 L578.97 121.32 L580.25 118.68 L581.53 116.13 L582.81 113.66 L584.09 111.28 L585.37 109.00 L586.65 106.82 L587.92 104.74 L589.20 102.78 L590.48 100.92 L591.76 99.18 L593.04 97.55 L594.32 96.03 L595.60 94.63 L596.88 93.34 L598.15 92.15 L599.43 91.08 L600.71 90.11 L601.99 89.25 L603.27 88.49 L604.55 87.84 L605.83 87.28 L607.11 86.81 L608.38 86.44 L609.66 86.16 L610.94 85.97 L612.22 85.87 L613.50 85.84 L614.78 85.91 L616.06 86.05 L617.34 86.27 L618.61 86.56 L619.89 86.93 L621.17 87.37 L622.45 87.88 L623.73 88.46 L625.01 89.10 L626.29 89.81 L627.57 90.59 L628.84 91.43 L630.12 92.32 L631.40 93.28 L632.68 94.29 L633.96 95.35 L635.24 96.47 L636.52 97.65 L637.80 98.87 L639.07 100.14 L640.35 101.45 L641.63 102.81 L642.91 104.21 L644.19 105.65 L645.47 107.13 L646.75 108.64 L648.03 110.19 L649.30 111.77 L650.58 113.38 L651.86 115.01 L653.14 116.66 L654.42 118.34 L655.70 120.03"/>
<path class="c" stroke="#7e4ab2" d="M476.67 198.35 L477.95 198.35 L479.23 198.35 L480.51 198.35 L481.79 198.35 L483.07 198.35 L484.34 198.35 L485.62 198.35 L486.90 198.35 L488.18 198.35 L489.46 198.35 L490.74 198.35 L492.02 198.35 L493.30 198.35 L494.57 198.35 L495.85 198.35 L497.13 198.35 L498.41 198.35 L499.69 198.35 L500.97 198.35 L502.25 198.35 L503.53 198.35 L504.80 198.35 L506.08 198.35 L507.36 198.35 L508.64 198.35 L509.92 198.35 L511.20 198.35 L512.48 198.35 L513.76 198.35 L515.03 198.35 L516.31 198.35 L517.59 198.34 L518.87 198.34 L520.15 198.34 L521.43 198.34 L522.71 198.34 L523.99 198.34 L525.26 198.34 L526.54 198.33 L527.82 198.33 L529.10 198.33 L530.38 198.32 L531.66 198.32 L532.94 198.31 L534.22 198.31 L535.49 198.30 L536.77 198.29 L538.05 198.28 L539.33 198.27 L540.61 198.26 L541.89 198.25 L543.17 198.23 L544.45 198.21 L545.72 198.19 L547.00 198.16 L548.28 198.14 L549.56 198.10 L550.84 198.07 L552.12 198.03 L553.40 197.98 L554.68 197.93 L555.95 197.88 L557.23 197.81 L558.51 197.74 L559.79 197.67 L561.07 197.58 L562.35 197.49 L563.63 197.38 L564.91 197.27 L566.19 197.15 L567.46 197.01 L568.74 196.86 L570.02 196.70 L571.30 196.53 L572.58 196.35 L573.86 196.15 L575.14 195.94 L576.42 195.71 L577.69 195.47 L578.97 195.21 L580.25 194.94 L581.53 194.65 L582.81 194.34 L584.09 194.02 L585.37 193.67 L586.65 193.31 L587.92 192.94 L589.20 192.54 L590.48 192.12 L591.76 191.69 L593.04 191.23 L594.32 190.75 L595.60 190.25 L596.88 189.73 L598.15 189.19 L599.43 188.62 L600.71 188.03 L601.99 187.41 L603.27 186.77 L604.55 186.10 L605.83 185.41 L607.11 184.69 L608.38 183.94 L609.66 183.17 L610.94 182.36 L612.22 181.53 L613.50 180.66 L614.78 179.76 L616.06 178.83 L617.34 177.87 L618.61 176.88 L619.89 175.85 L621.17 174.79 L622.45 173.70 L623.73 172.57 L625.01 171.41 L626.29 170.21 L627.57 168.98 L628.84 167.72 L630.12 166.41 L631.40 165.08 L632.68 163.71 L633.96 162.31 L635.24 160.87 L636.52 159.40 L637.80 157.90 L639.07 156.37 L640.35 154.81 L641.63 153.22 L642.91 151.60 L644.19 149.96 L645.47 148.29 L646.75 146.59 L648.03 144.88 L649.30 143.14 L650.58 141.39 L651.86 139.62 L653.14 137.83 L654.42 136.04 L655.70 134.23"/>
<path class="c" stroke="#783d33" d="M476.67 177.79 L477.95 177.19 L479.23 176.59 L480.51 175.99 L481.79 175.38 L483.07 174.78 L484.34 174.17 L485.62 173.57 L486.90 172.97 L488.18 172.37 L489.46 171.77 L490.74 171.18 L492.02 170.59 L493.30 170.01 L494.57 169.43 L495.85 168.86 L497.13 168.29 L498.41 167.73 L499.69 167.18 L500.97 166.63 L502.25 166.08 L503.53 165.55 L504.80 165.01 L506.08 164.48 L507.36 163.95 L508.64 163.42 L509.92 162.89 L511.20 162.35 L512.48 161.81 L513.76 161.27 L515.03 160.72 L516.31 160.15 L517.59 159.57 L518.87 158.98 L520.15 158.37 L521.43 157.73 L522.71 157.08 L523.99 156.39 L525.26 155.68 L526.54 154.94 L527.82 154.16 L529.10 153.35 L530.38 152.50 L531.66 151.62 L532.94 150.70 L534.22 149.74 L535.49 148.75 L536.77 147.72 L538.05 146.66 L539.33 145.58 L540.61 144.47 L541.89 143.35 L543.17 142.21 L544.45 141.06 L545.72 139.92 L547.00 138.78 L548.28 137.66 L549.56 136.56 L550.84 135.49 L552.12 134.47 L553.40 133.49 L554.68 132.57 L555.95 131.72 L557.23 130.93 L558.51 130.23 L559.79 129.61 L561.07 129.09 L562.35 128.66 L563.63 128.33 L564.91 128.10 L566.19 127.99 L567.46 127.98 L568.74 128.09 L570.02 128.30 L571.30 128.63 L572.58 129.07 L573.86 129.62 L575.14 130.28 L576.42 131.04 L577.69 131.90 L578.97 132.86 L580.25 133.90 L581.53 135.03 L582.81 136.23 L584.09 137.50 L585.37 138.83 L586.65 140.20 L587.92 141.62 L589.20 143.08 L590.48 144.55 L591.76 146.04 L593.04 147.53 L594.32 149.01 L595.60 150.48 L596.88 151.92 L598.15 153.33 L599.43 154.71 L600.71 156.03 L601.99 157.31 L603.27 158.53 L604.55 159.68 L605.83 160.78 L607.11 161.81 L608.38 162.76 L609.66 163.65 L610.94 164.47 L612.22 165.22 L613.50 165.90 L614.78 166.51 L616.06 167.05 L617.34 167.53 L618.61 167.95 L619.89 168.31 L621.17 168.62 L622.45 168.87 L623.73 169.07 L625.01 169.23 L626.29 169.35 L627.57 169.42 L628.84 169.47 L630.12 169.48 L631.40 169.46 L632.68 169.42 L633.96 169.36 L635.24 169.28 L636.52 169.19 L637.80 169.08 L639.07 168.97 L640.35 168.85 L641.63 168.73 L642.91 168.61 L644.19 168.49 L645.47 168.38 L646.75 168.27 L648.03 168.17 L649.30 168.09 L650.58 168.02 L651.86 167.96 L653.14 167.92 L654.42 167.90 L655.70 167.89"/>
<path d="M468.07 56.36V204.4H664.3V56.36Z" fill="none" stroke="#5e5e5e" stroke-width="1"/>
<rect x="59.55" y="212.7" width="196.23" height="23.86" fill="#cfcfcf" stroke="#4a4a4a" stroke-width="1.25"/>
<text class="t" x="157.27" y="230.46" text-anchor="middle">Judge 4</text>
<path class="c" stroke="#125fa4" d="M68.15 325.86 L69.43 328.25 L70.71 330.61 L71.99 332.94 L73.27 335.23 L74.55 337.47 L75.82 339.66 L77.10 341.80 L78.38 343.88 L79.66 345.89 L80.94 347.85 L82.22 349.73 L83.50 351.54 L84.78 353.28 L86.05 354.94 L87.33 356.54 L88.61 358.05 L89.89 359.50 L91.17 360.86 L92.45 362.16 L93.73 363.38 L95.01 364.54 L96.28 365.62 L97.56 366.64 L98.84 367.59 L100.12 368.48 L101.40 369.32 L102.68 370.09 L103.96 370.81 L105.24 371.48 L106.51 372.10 L107.79 372.68 L109.07 373.21 L110.35 373.70 L111.63 374.15 L112.91 374.57 L114.19 374.95 L115.47 375.30 L116.74 375.63 L118.02 375.92 L119.30 376.19 L120.58 376.44 L121.86 376.66 L123.14 376.87 L124.42 377.06 L125.70 377.23 L126.97 377.38 L128.25 377.52 L129.53 377.65 L130.81 377.77 L132.09 377.87 L133.37 377.97 L134.65 378.05 L135.93 378.13 L137.20 378.20 L138.48 378.26 L139.76 378.32 L141.04 378.37 L142.32 378.42 L143.60 378.46 L144.88 378.50 L146.16 378.53 L147.43 378.56 L148.71 378.59 L149.99 378.61 L151.27 378.63 L152.55 378.65 L153.83 378.67 L155.11 378.68 L156.39 378.70 L157.67 378.71 L158.94 378.72 L160.22 378.73 L161.50 378.74 L162.78 378.74 L164.06 378.75 L165.34 378.76 L166.62 378.76 L167.90 378.77 L169.17 378.77 L170.45 378.77 L171.73 378.78 L173.01 378.78 L174.29 378.78 L175.57 378.79 L176.85 378.79 L178.13 378.79 L179.40 378.79 L180.68 378.79 L181.96 378.79 L183.24 378.79 L184.52 378.79 L185.80 378.80 L187.08 378.80 L188.36 378.80 L189.63 378.80 L190.91 378.80 L192.19 378.80 L193.47 378.80 L194.75 378.80 L196.03 378.80 L197.31 378.80 L198.59 378.80 L199.86 378.80 L201.14 378.80 L202.42 378.80 L203.70 378.80 L204.98 378.80 L206.26 378.80 L207.54 378.80 L208.82 378.80 L210.09 378.80 L211.37 378.80 L212.65 378.80 L213.93 378.80 L215.21 378.80 L216.49 378.80 L217.77 378.80 L219.05 378.80 L220.32 378.80 L221.60 378.80 L222.88 378.80 L224.16 378.80 L225.44 378.80 L226.72 378.80 L228.00 378.80 L229.28 378.80 L230.55 378.80 L231.83 378.80 L233.11 378.80 L234.39 378.80 L235.67 378.80 L236.95 378.80 L238.23 378.80 L239.51 378.80 L240.78 378.80 L242.06 378.80 L243.34 378.80 L244.62 378.80 L245.90 378.80 L247.18 378.80"/>
<path class="c" stroke="#ff6403" d="M68.15 326.49 L69.43 326.29 L70.71 326.18 L71.99 326.15 L73.27 326.22 L74.55 326.36 L75.82 326.60 L77.10 326.92 L78.38 327.32 L79.66 327.81 L80.94 328.37 L82.22 329.01 L83.50 329.72 L84.78 330.50 L86.05 331.33 L87.33 332.23 L88.61 333.18 L89.89 334.17 L91.17 335.21 L92.45 336.28 L93.73 337.39 L95.01 338.52 L96.28 339.68 L97.56 340.85 L98.84 342.03 L100.12 343.22 L101.40 344.41 L102.68 345.61 L103.96 346.79 L105.24 347.98 L106.51 349.15 L107.79 350.30 L109.07 351.44 L110.35 352.57 L111.63 353.67 L112.91 354.74 L114.19 355.80 L115.47 356.83 L116.74 357.83 L118.02 358.81 L119.30 359.76 L120.58 360.67 L121.86 361.56 L123.14 362.42 L124.42 363.25 L125.70 364.06 L126.97 364.83 L128.25 365.57 L129.53 366.28 L130.81 366.97 L132.09 367.63 L133.37 368.25 L134.65 368.86 L135.93 369.43 L137.20 369.98 L138.48 370.51 L139.76 371.01 L141.04 371.48 L142.32 371.93 L143.60 372.36 L144.88 372.77 L146.16 373.16 L147.43 373.52 L148.71 373.87 L149.99 374.20 L151.27 374.51 L152.55 374.80 L153.83 375.08 L155.11 375.34 L156.39 375.58 L157.67 375.81 L158.94 376.03 L160.22 376.23 L161.50 376.42 L162.78 376.60 L164.06 376.77 L165.34 376.92 L166.62 377.07 L167.90 377.20 L169.17 377.33 L170.45 377.45 L171.73 377.55 L173.01 377.66 L174.29 377.75 L175.57 377.84 L176.85 377.92 L178.13 377.99 L179.40 378.06 L180.68 378.13 L181.96 378.18 L183.24 378.24 L184.52 378.29 L185.80 378.33 L187.08 378.38 L188.36 378.41 L189.63 378.45 L190.91 378.48 L192.19 378.51 L193.47 378.54 L194.75 378.56 L196.03 378.59 L197.31 378.61 L198.59 378.63 L199.86 378.64 L201.14 378.66 L202.42 378.67 L203.70 378.69 L204.98 378.70 L206.26 378.71 L207.54 378.72 L208.82 378.73 L210.09 378.73 L211.37 378.74 L212.65 378.75 L213.93 378.75 L215.21 378.76 L216.49 378.76 L217.77 378.77 L219.05 378.77 L220.32 378.77 L221.60 378.78 L222.88 378.78 L224.16 378.78 L225.44 378.78 L226.72 378.79 L228.00 378.79 L229.28 378.79 L230.55 378.79 L231.83 378.79 L233.11 378.79 L234.39 378.79 L235.67 378.79 L236.95 378.79 L238.23 378.80 L239.51 378.80 L240.78 378.80 L242.06 378.80 L243.34 378.80 L244.62 378.80 L245.90 378.80 L247.18 378.80"/>
<path class="c" stroke="#1b8c1a" d="M68.15 341.19 L69.43 339.12 L70.71 336.99 L71.99 334.83 L73.27 332.63 L74.55 330.40 L75.82 328.14 L77.10 325.87 L78.38 323.59 L79.66 321.31 L80.94 319.03 L82.22 316.76 L83.50 314.51 L84.78 312.28 L86.05 310.08 L87.33 307.92 L88.61 305.80 L89.89 303.74 L91.17 301.72 L92.45 299.77 L93.73 297.87 L95.01 296.05 L96.28 294.30 L97.56 292.63 L98.84 291.03 L100.12 289.52 L101.40 288.09 L102.68 286.75 L103.96 285.49 L105.24 284.33 L106.51 283.26 L107.79 282.27 L109.07 281.39 L110.35 280.59 L111.63 279.89 L112.91 279.28 L114.19 278.77 L115.47 278.34 L116.74 278.01 L118.02 277.78 L119.30 277.63 L120.58 277.57 L121.86 277.61 L123.14 277.73 L124.42 277.94 L125.70 278.23 L126.97 278.61 L128.25 279.07 L129.53 279.61 L130.81 280.23 L132.09 280.93 L133.37 281.71 L134.65 282.55 L135.93 283.48 L137.20 284.47 L138.48 285.52 L139.76 286.65 L141.04 287.83 L142.32 289.08 L143.60 290.38 L144.88 291.74 L146.16 293.15 L147.43 294.61 L148.71 296.12 L149.99 297.67 L151.27 299.26 L152.55 300.88 L153.83 302.54 L155.11 304.23 L156.39 305.94 L157.67 307.68 L158.94 309.44 L160.22 311.21 L161.50 313.00 L162.78 314.80 L164.06 316.61 L165.34 318.41 L166.62 320.22 L167.90 322.03 L169.17 323.83 L170.45 325.62 L171.73 327.39 L173.01 329.16 L174.29 330.90 L175.57 332.63 L176.85 334.33 L178.13 336.01 L179.40 337.67 L180.68 339.29 L181.96 340.89 L183.24 342.45 L184.52 343.98 L185.80 345.47 L187.08 346.93 L188.36 348.36 L189.63 349.74 L190.91 351.09 L192.19 352.40 L193.47 353.66 L194.75 354.89 L196.03 356.08 L197.31 357.23 L198.59 358.34 L199.86 359.41 L201.14 360.43 L202.42 361.42 L203.70 362.37 L204.98 363.29 L206.26 364.16 L207.54 365.00 L208.82 365.80 L210.09 366.56 L211.37 367.29 L212.65 367.99 L213.93 368.65 L215.21 369.28 L216.49 369.88 L217.77 370.44 L219.05 370.98 L220.32 371.49 L221.60 371.97 L222.88 372.43 L224.16 372.86 L225.44 373.26 L226.72 373.65 L228.00 374.01 L229.28 374.34 L230.55 374.66 L231.83 374.96 L233.11 375.24 L234.39 375.50 L235.67 375.74 L236.95 375.97 L238.23 376.18 L239.51 376.38 L240.78 376.57 L242.06 376.74 L243.34 376.90 L244.62 377.05 L245.90 377.19 L247.18 377.32"/>
<path class="c" stroke="#c90d13" d="M68.15 377.75 L69.43 377.64 L70.71 377.52 L71.99 377.38 L73.27 377.23 L74.55 377.07 L75.82 376.90 L77.10 376.71 L78.38 376.51 L79.66 376.29 L80.94 376.06 L82.22 375.81 L83.50 375.54 L84.78 375.26 L86.05 374.95 L87.33 374.63 L88.61 374.29 L89.89 373.92 L91.17 373.53 L92.45 373.12 L93.73 372.69 L95.01 372.23 L96.28 371.74 L97.56 371.24 L98.84 370.70 L100.12 370.14 L101.40 369.55 L102.68 368.93 L103.96 368.28 L105.24 367.61 L106.51 366.90 L107.79 366.16 L109.07 365.39 L110.35 364.59 L111.63 363.75 L112.91 362.88 L114.19 361.98 L115.47 361.04 L116.74 360.07 L118.02 359.07 L119.30 358.02 L120.58 356.95 L121.86 355.83 L123.14 354.68 L124.42 353.50 L125.70 352.28 L126.97 351.03 L128.25 349.74 L129.53 348.41 L130.81 347.05 L132.09 345.66 L133.37 344.24 L134.65 342.79 L135.93 341.30 L137.20 339.79 L138.48 338.25 L139.76 336.68 L141.04 335.09 L142.32 333.48 L143.60 331.85 L144.88 330.20 L146.16 328.54 L147.43 326.86 L148.71 325.18 L149.99 323.48 L151.27 321.78 L152.55 320.09 L153.83 318.39 L155.11 316.70 L156.39 315.02 L157.67 313.35 L158.94 311.69 L160.22 310.06 L161.50 308.44 L162.78 306.86 L164.06 305.30 L165.34 303.78 L166.62 302.29 L167.90 300.85 L169.17 299.45 L170.45 298.10 L171.73 296.80 L173.01 295.55 L174.29 294.36 L175.57 293.23 L176.85 292.16 L178.13 291.16 L179.40 290.23 L180.68 289.37 L181.96 288.58 L183.24 287.86 L184.52 287.22 L185.80 286.66 L187.08 286.18 L188.36 285.77 L189.63 285.45 L190.91 285.22 L192.19 285.06 L193.47 284.99 L194.75 285.00 L196.03 285.09 L197.31 285.26 L198.59 285.52 L199.86 285.86 L201.14 286.27 L202.42 286.77 L203.70 287.34 L204.98 287.99 L206.26 288.72 L207.54 289.51 L208.82 290.38 L210.09 291.31 L211.37 292.30 L212.65 293.36 L213.93 294.48 L215.21 295.66 L216.49 296.88 L217.77 298.16 L219.05 299.48 L220.32 300.85 L221.60 302.26 L222.88 303.70 L224.16 305.18 L225.44 306.69 L226.72 308.22 L228.00 309.78 L229.28 311.35 L230.55 312.94 L231.83 314.54 L233.11 316.15 L234.39 317.76 L235.67 319.38 L236.95 321.00 L238.23 322.61 L239.51 324.22 L240.78 325.81 L242.06 327.40 L243.34 328.97 L244.62 330.52 L245.90 332.06 L247.18 333.57"/>
<path class="c" stroke="#7e4ab2" d="M68.15 378.80 L69.43 378.80 L70.71 378.80 L71.99 378.80 L73.27 378.80 L74.55 378.80 L75.82 378.79 L77.10 378.79 L78.38 378.79 L79.66 378.79 L80.94 378.79 L82.22 378.79 L83.50 378.79 L84.78 378.79 L86.05 378.78 L87.33 378.78 L88.61 378.78 L89.89 378.78 L91.17 378.77 L92.45 378.77 L93.73 378.77 L95.01 378.76 L96.28 378.76 L97.56 378.75 L98.84 378.75 L100.12 378.74 L101.40 378.73 L102.68 378.73 L103.96 378.72 L105.24 378.71 L106.51 378.70 L107.79 378.68 L109.07 378.67 L110.35 378.65 L111.63 378.64 L112.91 378.62 L114.19 378.60 L115.47 378.58 L116.74 378.55 L118.02 378.53 L119.30 378.50 L120.58 378.47 L121.86 378.43 L123.14 378.39 L124.42 378.35 L125.70 378.31 L126.97 378.26 L128.25 378.20 L129.53 378.14 L130.81 378.08 L132.09 378.01 L133.37 377.93 L134.65 377.85 L135.93 377.76 L137.20 377.66 L138.48 377.56 L139.76 377.44 L141.04 377.32 L142.32 377.19 L143.60 377.04 L144.88 376.89 L146.16 376.72 L147.43 376.54 L148.71 376.35 L149.99 376.14 L151.27 375.92 L152.55 375.68 L153.83 375.43 L155.11 375.15 L156.39 374.86 L157.67 374.55 L158.94 374.22 L160.22 373.87 L161.50 373.50 L162.78 373.10 L164.06 372.68 L165.34 372.23 L166.62 371.75 L167.90 371.25 L169.17 370.72 L170.45 370.17 L171.73 369.58 L173.01 368.96 L174.29 368.30 L175.57 367.62 L176.85 366.90 L178.13 366.14 L179.40 365.35 L180.68 364.53 L181.96 363.66 L183.24 362.76 L184.52 361.82 L185.80 360.84 L187.08 359.82 L188.36 358.76 L189.63 357.66 L190.91 356.52 L192.19 355.33 L193.47 354.11 L194.75 352.85 L196.03 351.55 L197.31 350.20 L198.59 348.82 L199.86 347.39 L201.14 345.93 L202.42 344.43 L203.70 342.90 L204.98 341.32 L206.26 339.72 L207.54 338.07 L208.82 336.40 L210.09 334.70 L211.37 332.96 L212.65 331.20 L213.93 329.42 L215.21 327.61 L216.49 325.78 L217.77 323.93 L219.05 322.06 L220.32 320.18 L221.60 318.29 L222.88 316.39 L224.16 314.48 L225.44 312.56 L226.72 310.65 L228.00 308.73 L229.28 306.82 L230.55 304.91 L231.83 303.01 L233.11 301.12 L234.39 299.24 L235.67 297.38 L236.95 295.54 L238.23 293.71 L239.51 291.90 L240.78 290.12 L242.06 288.36 L243.34 286.63 L244.62 284.93 L245.90 283.25 L247.18 281.61"/>
<path class="c" stroke="#783d33" d="M68.15 322.12 L69.43 321.80 L70.71 321.56 L71.99 321.38 L73.27 321.28 L74.55 321.25 L75.82 321.29 L77.10 321.39 L78.38 321.56 L79.66 321.80 L80.94 322.10 L82.22 322.46 L83.50 322.87 L84.78 323.34 L86.05 323.86 L87.33 324.43 L88.61 325.04 L89.89 325.68 L91.17 326.36 L92.45 327.07 L93.73 327.80 L95.01 328.55 L96.28 329.32 L97.56 330.10 L98.84 330.88 L100.12 331.66 L101.40 332.44 L102.68 333.20 L103.96 333.96 L105.24 334.70 L106.51 335.42 L107.79 336.11 L109.07 336.78 L110.35 337.42 L111.63 338.03 L112.91 338.60 L114.19 339.14 L115.47 339.64 L116.74 340.11 L118.02 340.54 L119.30 340.93 L120.58 341.28 L121.86 341.59 L123.14 341.87 L124.42 342.11 L125.70 342.31 L126.97 342.48 L128.25 342.62 L129.53 342.72 L130.81 342.80 L132.09 342.85 L133.37 342.88 L134.65 342.88 L135.93 342.86 L137.20 342.82 L138.48 342.76 L139.76 342.69 L141.04 342.60 L142.32 342.51 L143.60 342.40 L144.88 342.29 L146.16 342.17 L147.43 342.05 L148.71 341.93 L149.99 341.81 L151.27 341.69 L152.55 341.57 L153.83 341.46 L155.11 341.35 L156.39 341.25 L157.67 341.15 L158.94 341.07 L160.22 340.99 L161.50 340.92 L162.78 340.85 L164.06 340.80 L165.34 340.75 L166.62 340.72 L167.90 340.69 L169.17 340.67 L170.45 340.66 L171.73 340.66 L173.01 340.66 L174.29 340.67 L175.57 340.69 L176.85 340.71 L178.13 340.73 L179.40 340.77 L180.68 340.80 L181.96 340.84 L183.24 340.87 L184.52 340.91 L185.80 340.96 L187.08 341.00 L188.36 341.04 L189.63 341.08 L190.91 341.13 L192.19 341.17 L193.47 341.21 L194.75 341.25 L196.03 341.30 L197.31 341.34 L198.59 341.38 L199.86 341.43 L201.14 341.47 L202.42 341.52 L203.70 341.57 L204.98 341.63 L206.26 341.69 L207.54 341.76 L208.82 341.83 L210.09 341.91 L211.37 342.00 L212.65 342.09 L213.93 342.20 L215.21 342.32 L216.49 342.45 L217.77 342.60 L219.05 342.76 L220.32 342.93 L221.60 343.12 L222.88 343.33 L224.16 343.55 L225.44 343.79 L226.72 344.05 L228.00 344.33 L229.28 344.62 L230.55 344.94 L231.83 345.27 L233.11 345.62 L234.39 345.99 L235.67 346.38 L236.95 346.79 L238.23 347.21 L239.51 347.66 L240.78 348.11 L242.06 348.59 L243.34 349.08 L244.62 349.58 L245.90 350.10 L247.18 350.63"/>
<path d="M59.55 236.86V385.35H255.78V236.86Z" fill="none" stroke="#5e5e5e" stroke-width="1"/>
<path d="M80.94 385.35V389.05" stroke="#383838" stroke-width="1.3" fill="none"/>
<text class="tk" x="80.94" y="401.6" text-anchor="middle">-3</text>
<path d="M106.51 385.35V389.05" stroke="#383838" stroke-width="1.3" fill="none"/>
<text class="tk" x="106.51" y="401.6" text-anchor="middle">-2</text>
<path d="M132.09 385.35V389.05" stroke="#383838" stroke-width="1.3" fill="none"/>
<text class="tk" x="132.09" y="401.6" text-anchor="middle">-1</text>
<path d="M157.67 385.35V389.05" stroke="#383838" stroke-width="1.3" fill="none"/>
<text class="tk" x="157.67" y="401.6" text-anchor="middle">0</text>
<path d="M183.24 385.35V389.05" stroke="#383838" stroke-width="1.3" fill="none"/>
<text class="tk" x="183.24" y="401.6" text-anchor="middle">1</text>
<path d="M208.82 385.35V389.05" stroke="#383838" stroke-width="1.3" fill="none"/>
<text class="tk" x="208.82" y="401.6" text-anchor="middle">2</text>
<path d="M234.39 385.35V389.05" stroke="#383838" stroke-width="1.3" fill="none"/>
<text class="tk" x="234.39" y="401.6" text-anchor="middle">3</text>
<path d="M55.35 378.8H59.55" stroke="#383838" stroke-width="1.3" fill="none"/>
<text class="tk" x="52.5" y="384.3" text-anchor="end">0.00</text>
<path d="M55.35 342.82H59.55" stroke="#383838" stroke-width="1.3" fill="none"/>
<text class="tk" x="52.5" y="348.32" text-anchor="end">0.25</text>
<path d="M55.35 306.85H59.55" stroke="#383838" stroke-width="1.3" fill="none"/>
<text class="tk" x="52.5" y="312.35" text-anchor="end">0.50</text>
<path d="M55.35 270.88H59.55" stroke="#383838" stroke-width="1.3" fill="none"/>
<text class="tk" x="52.5" y="276.38" text-anchor="end">0.75</text>
<rect x="263.81" y="212.7" width="196.23" height="23.86" fill="#cfcfcf" stroke="#4a4a4a" stroke-width="1.25"/>
<text class="t" x="361.53" y="230.46" text-anchor="middle">Judge 5</text>
<path class="c" stroke="#125fa4" d="M272.41 353.80 L273.69 354.85 L274.97 355.86 L276.25 356.84 L277.53 357.79 L278.81 358.70 L280.08 359.58 L281.36 360.43 L282.64 361.25 L283.92 362.04 L285.20 362.80 L286.48 363.54 L287.76 364.24 L289.04 364.92 L290.31 365.57 L291.59 366.19 L292.87 366.79 L294.15 367.37 L295.43 367.92 L296.71 368.45 L297.99 368.96 L299.27 369.44 L300.54 369.91 L301.82 370.36 L303.10 370.78 L304.38 371.19 L305.66 371.58 L306.94 371.96 L308.22 372.31 L309.50 372.65 L310.77 372.98 L312.05 373.29 L313.33 373.59 L314.61 373.87 L315.89 374.14 L317.17 374.40 L318.45 374.65 L319.73 374.88 L321.00 375.11 L322.28 375.32 L323.56 375.53 L324.84 375.72 L326.12 375.90 L327.40 376.08 L328.68 376.25 L329.96 376.40 L331.23 376.55 L332.51 376.70 L333.79 376.83 L335.07 376.96 L336.35 377.08 L337.63 377.20 L338.91 377.31 L340.19 377.41 L341.46 377.51 L342.74 377.60 L344.02 377.69 L345.30 377.77 L346.58 377.85 L347.86 377.92 L349.14 377.99 L350.42 378.06 L351.69 378.12 L352.97 378.17 L354.25 378.23 L355.53 378.28 L356.81 378.32 L358.09 378.36 L359.37 378.40 L360.65 378.44 L361.93 378.47 L363.20 378.51 L364.48 378.53 L365.76 378.56 L367.04 378.59 L368.32 378.61 L369.60 378.63 L370.88 378.65 L372.16 378.66 L373.43 378.68 L374.71 378.69 L375.99 378.70 L377.27 378.71 L378.55 378.72 L379.83 378.73 L381.11 378.74 L382.39 378.75 L383.66 378.75 L384.94 378.76 L386.22 378.77 L387.50 378.77 L388.78 378.77 L390.06 378.78 L391.34 378.78 L392.62 378.78 L393.89 378.79 L395.17 378.79 L396.45 378.79 L397.73 378.79 L399.01 378.79 L400.29 378.79 L401.57 378.79 L402.85 378.79 L404.12 378.80 L405.40 378.80 L406.68 378.80 L407.96 378.80 L409.24 378.80 L410.52 378.80 L411.80 378.80 L413.08 378.80 L414.35 378.80 L415.63 378.80 L416.91 378.80 L418.19 378.80 L419.47 378.80 L420.75 378.80 L422.03 378.80 L423.31 378.80 L424.58 378.80 L425.86 378.80 L427.14 378.80 L428.42 378.80 L429.70 378.80 L430.98 378.80 L432.26 378.80 L433.54 378.80 L434.81 378.80 L436.09 378.80 L437.37 378.80 L438.65 378.80 L439.93 378.80 L441.21 378.80 L442.49 378.80 L443.77 378.80 L445.04 378.80 L446.32 378.80 L447.60 378.80 L448.88 378.80 L450.16 378.80 L451.44 378.80"/>
<path class="c" stroke="#ff6403" d="M272.41 263.36 L273.69 262.52 L274.97 261.72 L276.25 260.98 L277.53 260.27 L278.81 259.62 L280.08 259.00 L281.36 258.44 L282.64 257.92 L283.92 257.44 L285.20 257.01 L286.48 256.63 L287.76 256.29 L289.04 255.99 L290.31 255.75 L291.59 255.55 L292.87 255.39 L294.15 255.29 L295.43 255.23 L296.71 255.21 L297.99 255.25 L299.27 255.33 L300.54 255.46 L301.82 255.64 L303.10 255.88 L304.38 256.16 L305.66 256.49 L306.94 256.87 L308.22 257.31 L309.50 257.80 L310.77 258.35 L312.05 258.95 L313.33 259.61 L314.61 260.33 L315.89 261.10 L317.17 261.94 L318.45 262.83 L319.73 263.79 L321.00 264.81 L322.28 265.89 L323.56 267.04 L324.84 268.26 L326.12 269.54 L327.40 270.89 L328.68 272.31 L329.96 273.80 L331.23 275.36 L332.51 276.99 L333.79 278.68 L335.07 280.45 L336.35 282.28 L337.63 284.18 L338.91 286.15 L340.19 288.18 L341.46 290.28 L342.74 292.43 L344.02 294.64 L345.30 296.91 L346.58 299.23 L347.86 301.59 L349.14 304.00 L350.42 306.44 L351.69 308.91 L352.97 311.41 L354.25 313.93 L355.53 316.46 L356.81 318.99 L358.09 321.53 L359.37 324.06 L360.65 326.57 L361.93 329.06 L363.20 331.52 L364.48 333.95 L365.76 336.33 L367.04 338.66 L368.32 340.94 L369.60 343.16 L370.88 345.32 L372.16 347.40 L373.43 349.41 L374.71 351.35 L375.99 353.20 L377.27 354.98 L378.55 356.67 L379.83 358.29 L381.11 359.81 L382.39 361.26 L383.66 362.63 L384.94 363.91 L386.22 365.11 L387.50 366.24 L388.78 367.30 L390.06 368.28 L391.34 369.19 L392.62 370.04 L393.89 370.83 L395.17 371.55 L396.45 372.22 L397.73 372.84 L399.01 373.40 L400.29 373.92 L401.57 374.40 L402.85 374.83 L404.12 375.23 L405.40 375.59 L406.68 375.91 L407.96 376.21 L409.24 376.48 L410.52 376.72 L411.80 376.94 L413.08 377.14 L414.35 377.32 L415.63 377.48 L416.91 377.63 L418.19 377.76 L419.47 377.87 L420.75 377.98 L422.03 378.07 L423.31 378.15 L424.58 378.23 L425.86 378.29 L427.14 378.35 L428.42 378.41 L429.70 378.45 L430.98 378.49 L432.26 378.53 L433.54 378.56 L434.81 378.59 L436.09 378.62 L437.37 378.64 L438.65 378.66 L439.93 378.68 L441.21 378.69 L442.49 378.70 L443.77 378.72 L445.04 378.73 L446.32 378.74 L447.60 378.74 L448.88 378.75 L450.16 378.76 L451.44 378.76"/>
<path class="c" stroke="#1b8c1a" d="M272.41 375.43 L273.69 375.23 L274.97 375.02 L276.25 374.80 L277.53 374.57 L278.81 374.33 L280.08 374.08 L281.36 373.81 L282.64 373.54 L283.92 373.24 L285.20 372.94 L286.48 372.62 L287.76 372.28 L289.04 371.93 L290.31 371.57 L291.59 371.18 L292.87 370.78 L294.15 370.37 L295.43 369.93 L296.71 369.47 L297.99 369.00 L299.27 368.50 L300.54 367.99 L301.82 367.45 L303.10 366.89 L304.38 366.31 L305.66 365.70 L306.94 365.07 L308.22 364.42 L309.50 363.74 L310.77 363.04 L312.05 362.32 L313.33 361.57 L314.61 360.79 L315.89 359.99 L317.17 359.17 L318.45 358.32 L319.73 357.45 L321.00 356.56 L322.28 355.64 L323.56 354.70 L324.84 353.74 L326.12 352.76 L327.40 351.76 L328.68 350.75 L329.96 349.72 L331.23 348.69 L332.51 347.64 L333.79 346.59 L335.07 345.53 L336.35 344.48 L337.63 343.43 L338.91 342.39 L340.19 341.36 L341.46 340.35 L342.74 339.37 L344.02 338.41 L345.30 337.48 L346.58 336.59 L347.86 335.74 L349.14 334.95 L350.42 334.20 L351.69 333.52 L352.97 332.90 L354.25 332.35 L355.53 331.87 L356.81 331.47 L358.09 331.16 L359.37 330.92 L360.65 330.78 L361.93 330.72 L363.20 330.76 L364.48 330.89 L365.76 331.11 L367.04 331.42 L368.32 331.81 L369.60 332.30 L370.88 332.87 L372.16 333.52 L373.43 334.25 L374.71 335.05 L375.99 335.92 L377.27 336.85 L378.55 337.83 L379.83 338.87 L381.11 339.95 L382.39 341.07 L383.66 342.22 L384.94 343.40 L386.22 344.60 L387.50 345.81 L388.78 347.03 L390.06 348.26 L391.34 349.48 L392.62 350.70 L393.89 351.91 L395.17 353.10 L396.45 354.28 L397.73 355.43 L399.01 356.56 L400.29 357.67 L401.57 358.75 L402.85 359.79 L404.12 360.81 L405.40 361.79 L406.68 362.74 L407.96 363.65 L409.24 364.53 L410.52 365.37 L411.80 366.18 L413.08 366.95 L414.35 367.69 L415.63 368.39 L416.91 369.06 L418.19 369.69 L419.47 370.29 L420.75 370.86 L422.03 371.40 L423.31 371.91 L424.58 372.39 L425.86 372.84 L427.14 373.26 L428.42 373.66 L429.70 374.04 L430.98 374.39 L432.26 374.72 L433.54 375.02 L434.81 375.31 L436.09 375.58 L437.37 375.82 L438.65 376.06 L439.93 376.27 L441.21 376.47 L442.49 376.66 L443.77 376.83 L445.04 376.99 L446.32 377.14 L447.60 377.27 L448.88 377.40 L450.16 377.51 L451.44 377.62"/>
<path class="c" stroke="#c90d13" d="M272.41 378.71 L273.69 378.70 L274.97 378.69 L276.25 378.68 L277.53 378.66 L278.81 378.65 L280.08 378.63 L281.36 378.61 L282.64 378.59 L283.92 378.57 L285.20 378.55 L286.48 378.52 L287.76 378.49 L289.04 378.46 L290.31 378.42 L291.59 378.38 L292.87 378.33 L294.15 378.28 L295.43 378.23 L296.71 378.17 L297.99 378.10 L299.27 378.03 L300.54 377.95 L301.82 377.86 L303.10 377.76 L304.38 377.66 L305.66 377.54 L306.94 377.41 L308.22 377.27 L309.50 377.12 L310.77 376.95 L312.05 376.77 L313.33 376.56 L314.61 376.34 L315.89 376.10 L317.17 375.84 L318.45 375.55 L319.73 375.24 L321.00 374.90 L322.28 374.53 L323.56 374.13 L324.84 373.70 L326.12 373.23 L327.40 372.72 L328.68 372.17 L329.96 371.57 L331.23 370.93 L332.51 370.24 L333.79 369.50 L335.07 368.70 L336.35 367.85 L337.63 366.93 L338.91 365.96 L340.19 364.92 L341.46 363.81 L342.74 362.64 L344.02 361.40 L345.30 360.08 L346.58 358.70 L347.86 357.25 L349.14 355.72 L350.42 354.13 L351.69 352.46 L352.97 350.74 L354.25 348.94 L355.53 347.09 L356.81 345.18 L358.09 343.22 L359.37 341.21 L360.65 339.17 L361.93 337.09 L363.20 334.98 L364.48 332.86 L365.76 330.72 L367.04 328.59 L368.32 326.46 L369.60 324.34 L370.88 322.25 L372.16 320.20 L373.43 318.18 L374.71 316.22 L375.99 314.32 L377.27 312.48 L378.55 310.72 L379.83 309.04 L381.11 307.45 L382.39 305.95 L383.66 304.55 L384.94 303.26 L386.22 302.07 L387.50 300.99 L388.78 300.03 L390.06 299.19 L391.34 298.46 L392.62 297.85 L393.89 297.36 L395.17 296.98 L396.45 296.72 L397.73 296.58 L399.01 296.55 L400.29 296.64 L401.57 296.83 L402.85 297.12 L404.12 297.52 L405.40 298.02 L406.68 298.61 L407.96 299.30 L409.24 300.07 L410.52 300.92 L411.80 301.85 L413.08 302.85 L414.35 303.92 L415.63 305.05 L416.91 306.24 L418.19 307.49 L419.47 308.78 L420.75 310.12 L422.03 311.49 L423.31 312.90 L424.58 314.34 L425.86 315.81 L427.14 317.29 L428.42 318.80 L429.70 320.31 L430.98 321.84 L432.26 323.37 L433.54 324.90 L434.81 326.43 L436.09 327.95 L437.37 329.47 L438.65 330.97 L439.93 332.46 L441.21 333.94 L442.49 335.39 L443.77 336.83 L445.04 338.24 L446.32 339.63 L447.60 341.00 L448.88 342.34 L450.16 343.65 L451.44 344.93"/>
<path class="c" stroke="#7e4ab2" d="M272.41 378.80 L273.69 378.80 L274.97 378.80 L276.25 378.80 L277.53 378.80 L278.81 378.80 L280.08 378.80 L281.36 378.80 L282.64 378.80 L283.92 378.80 L285.20 378.80 L286.48 378.80 L287.76 378.80 L289.04 378.80 L290.31 378.80 L291.59 378.80 L292.87 378.80 L294.15 378.80 L295.43 378.80 L296.71 378.80 L297.99 378.79 L299.27 378.79 L300.54 378.79 L301.82 378.79 L303.10 378.79 L304.38 378.79 L305.66 378.79 L306.94 378.78 L308.22 378.78 L309.50 378.78 L310.77 378.78 L312.05 378.77 L313.33 378.77 L314.61 378.76 L315.89 378.76 L317.17 378.75 L318.45 378.74 L319.73 378.73 L321.00 378.72 L322.28 378.71 L323.56 378.70 L324.84 378.68 L326.12 378.67 L327.40 378.65 L328.68 378.62 L329.96 378.60 L331.23 378.57 L332.51 378.54 L333.79 378.50 L335.07 378.46 L336.35 378.41 L337.63 378.35 L338.91 378.29 L340.19 378.22 L341.46 378.15 L342.74 378.06 L344.02 377.96 L345.30 377.85 L346.58 377.73 L347.86 377.59 L349.14 377.44 L350.42 377.27 L351.69 377.09 L352.97 376.88 L354.25 376.65 L355.53 376.40 L356.81 376.13 L358.09 375.83 L359.37 375.50 L360.65 375.14 L361.93 374.75 L363.20 374.33 L364.48 373.87 L365.76 373.38 L367.04 372.85 L368.32 372.28 L369.60 371.67 L370.88 371.02 L372.16 370.32 L373.43 369.58 L374.71 368.79 L375.99 367.96 L377.27 367.08 L378.55 366.15 L379.83 365.17 L381.11 364.15 L382.39 363.07 L383.66 361.95 L384.94 360.78 L386.22 359.55 L387.50 358.28 L388.78 356.97 L390.06 355.60 L391.34 354.19 L392.62 352.73 L393.89 351.22 L395.17 349.68 L396.45 348.09 L397.73 346.46 L399.01 344.79 L400.29 343.08 L401.57 341.34 L402.85 339.56 L404.12 337.75 L405.40 335.91 L406.68 334.04 L407.96 332.14 L409.24 330.23 L410.52 328.29 L411.80 326.33 L413.08 324.36 L414.35 322.37 L415.63 320.38 L416.91 318.38 L418.19 316.37 L419.47 314.36 L420.75 312.35 L422.03 310.34 L423.31 308.34 L424.58 306.34 L425.86 304.36 L427.14 302.39 L428.42 300.43 L429.70 298.50 L430.98 296.58 L432.26 294.69 L433.54 292.82 L434.81 290.97 L436.09 289.16 L437.37 287.37 L438.65 285.61 L439.93 283.89 L441.21 282.20 L442.49 280.54 L443.77 278.92 L445.04 277.34 L446.32 275.79 L447.60 274.28 L448.88 272.81 L450.16 271.38 L451.44 269.99"/>
<path class="c" stroke="#783d33" d="M272.41 357.12 L273.69 357.44 L274.97 357.75 L276.25 358.04 L277.53 358.31 L278.81 358.57 L280.08 358.81 L281.36 359.03 L282.64 359.22 L283.92 359.39 L285.20 359.54 L286.48 359.66 L287.76 359.75 L289.04 359.82 L290.31 359.85 L291.59 359.86 L292.87 359.83 L294.15 359.76 L295.43 359.67 L296.71 359.53 L297.99 359.36 L299.27 359.15 L300.54 358.91 L301.82 358.62 L303.10 358.29 L304.38 357.92 L305.66 357.51 L306.94 357.06 L308.22 356.56 L309.50 356.02 L310.77 355.44 L312.05 354.81 L313.33 354.14 L314.61 353.42 L315.89 352.66 L317.17 351.85 L318.45 351.00 L319.73 350.11 L321.00 349.18 L322.28 348.20 L323.56 347.19 L324.84 346.15 L326.12 345.07 L327.40 343.95 L328.68 342.81 L329.96 341.65 L331.23 340.46 L332.51 339.25 L333.79 338.03 L335.07 336.79 L336.35 335.56 L337.63 334.32 L338.91 333.08 L340.19 331.85 L341.46 330.64 L342.74 329.44 L344.02 328.27 L345.30 327.13 L346.58 326.01 L347.86 324.94 L349.14 323.91 L350.42 322.93 L351.69 322.00 L352.97 321.13 L354.25 320.31 L355.53 319.56 L356.81 318.87 L358.09 318.24 L359.37 317.69 L360.65 317.21 L361.93 316.80 L363.20 316.46 L364.48 316.20 L365.76 316.01 L367.04 315.89 L368.32 315.84 L369.60 315.86 L370.88 315.95 L372.16 316.11 L373.43 316.33 L374.71 316.61 L375.99 316.94 L377.27 317.33 L378.55 317.77 L379.83 318.25 L381.11 318.78 L382.39 319.35 L383.66 319.94 L384.94 320.57 L386.22 321.22 L387.50 321.89 L388.78 322.58 L390.06 323.28 L391.34 323.99 L392.62 324.70 L393.89 325.42 L395.17 326.13 L396.45 326.85 L397.73 327.56 L399.01 328.26 L400.29 328.95 L401.57 329.64 L402.85 330.31 L404.12 330.98 L405.40 331.63 L406.68 332.28 L407.96 332.91 L409.24 333.54 L410.52 334.15 L411.80 334.76 L413.08 335.36 L414.35 335.96 L415.63 336.55 L416.91 337.14 L418.19 337.73 L419.47 338.31 L420.75 338.90 L422.03 339.48 L423.31 340.07 L424.58 340.66 L425.86 341.26 L427.14 341.86 L428.42 342.46 L429.70 343.07 L430.98 343.68 L432.26 344.31 L433.54 344.93 L434.81 345.56 L436.09 346.20 L437.37 346.85 L438.65 347.50 L439.93 348.15 L441.21 348.81 L442.49 349.47 L443.77 350.13 L445.04 350.80 L446.32 351.47 L447.60 352.14 L448.88 352.81 L450.16 353.48 L451.44 354.15"/>
<path d="M263.81 236.86V385.35H460.04V236.86Z" fill="none" stroke="#5e5e5e" stroke-width="1"/>
<path d="M285.2 385.35V389.05" stroke="#383838" stroke-width="1.3" fill="none"/>
<text class="tk" x="285.2" y="401.6" text-anchor="middle">-3</text>
<path d="M310.77 385.35V389.05" stroke="#383838" stroke-width="1.3" fill="none"/>
<text class="tk" x="310.77" y="401.6" text-anchor="middle">-2</text>
<path d="M336.35 385.35V389.05" stroke="#383838" stroke-width="1.3" fill="none"/>
<text class="tk" x="336.35" y="401.6" text-anchor="middle">-1</text>
<path d="M361.93 385.35V389.05" stroke="#383838" stroke-width="1.3" fill="none"/>
<text class="tk" x="361.93" y="401.6" text-anchor="middle">0</text>
<path d="M387.5 385.35V389.05" stroke="#383838" stroke-width="1.3" fill="none"/>
<text class="tk" x="387.5" y="401.6" text-anchor="middle">1</text>
<path d="M413.08 385.35V389.05" stroke="#383838" stroke-width="1.3" fill="none"/>
<text class="tk" x="413.08" y="401.6" text-anchor="middle">2</text>
<path d="M438.65 385.35V389.05" stroke="#383838" stroke-width="1.3" fill="none"/>
<text class="tk" x="438.65" y="401.6" text-anchor="middle">3</text>
<rect x="468.07" y="212.7" width="196.23" height="23.86" fill="#cfcfcf" stroke="#4a4a4a" stroke-width="1.25"/>
<text class="t" x="565.79" y="230.46" text-anchor="middle">Judge 6</text>
<path class="c" stroke="#125fa4" d="M476.67 243.42 L477.95 243.83 L479.23 244.26 L480.51 244.71 L481.79 245.17 L483.07 245.66 L484.34 246.18 L485.62 246.71 L486.90 247.27 L488.18 247.85 L489.46 248.45 L490.74 249.08 L492.02 249.74 L493.30 250.43 L494.57 251.14 L495.85 251.88 L497.13 252.65 L498.41 253.45 L499.69 254.28 L500.97 255.15 L502.25 256.04 L503.53 256.97 L504.80 257.94 L506.08 258.94 L507.36 259.97 L508.64 261.04 L509.92 262.15 L511.20 263.29 L512.48 264.47 L513.76 265.69 L515.03 266.95 L516.31 268.24 L517.59 269.58 L518.87 270.95 L520.15 272.36 L521.43 273.81 L522.71 275.30 L523.99 276.82 L525.26 278.38 L526.54 279.98 L527.82 281.62 L529.10 283.29 L530.38 285.00 L531.66 286.74 L532.94 288.52 L534.22 290.32 L535.49 292.16 L536.77 294.03 L538.05 295.93 L539.33 297.85 L540.61 299.81 L541.89 301.78 L543.17 303.78 L544.45 305.80 L545.72 307.84 L547.00 309.89 L548.28 311.96 L549.56 314.05 L550.84 316.14 L552.12 318.25 L553.40 320.36 L554.68 322.47 L555.95 324.59 L557.23 326.71 L558.51 328.82 L559.79 330.93 L561.07 333.03 L562.35 335.11 L563.63 337.18 L564.91 339.23 L566.19 341.26 L567.46 343.26 L568.74 345.22 L570.02 347.16 L571.30 349.05 L572.58 350.90 L573.86 352.71 L575.14 354.46 L576.42 356.15 L577.69 357.79 L578.97 359.36 L580.25 360.87 L581.53 362.31 L582.81 363.68 L584.09 364.98 L585.37 366.20 L586.65 367.35 L587.92 368.42 L589.20 369.42 L590.48 370.35 L591.76 371.20 L593.04 371.99 L594.32 372.71 L595.60 373.37 L596.88 373.97 L598.15 374.52 L599.43 375.01 L600.71 375.45 L601.99 375.84 L603.27 376.20 L604.55 376.51 L605.83 376.80 L607.11 377.05 L608.38 377.27 L609.66 377.46 L610.94 377.63 L612.22 377.78 L613.50 377.92 L614.78 378.03 L616.06 378.13 L617.34 378.22 L618.61 378.30 L619.89 378.37 L621.17 378.43 L622.45 378.48 L623.73 378.52 L625.01 378.56 L626.29 378.59 L627.57 378.62 L628.84 378.65 L630.12 378.67 L631.40 378.69 L632.68 378.70 L633.96 378.72 L635.24 378.73 L636.52 378.74 L637.80 378.75 L639.07 378.75 L640.35 378.76 L641.63 378.77 L642.91 378.77 L644.19 378.78 L645.47 378.78 L646.75 378.78 L648.03 378.78 L649.30 378.79 L650.58 378.79 L651.86 378.79 L653.14 378.79 L654.42 378.79 L655.70 378.79"/>
<path class="c" stroke="#ff6403" d="M476.67 370.32 L477.95 369.91 L479.23 369.48 L480.51 369.04 L481.79 368.57 L483.07 368.09 L484.34 367.58 L485.62 367.05 L486.90 366.50 L488.18 365.93 L489.46 365.33 L490.74 364.71 L492.02 364.06 L493.30 363.39 L494.57 362.69 L495.85 361.96 L497.13 361.21 L498.41 360.42 L499.69 359.61 L500.97 358.77 L502.25 357.89 L503.53 356.99 L504.80 356.05 L506.08 355.08 L507.36 354.08 L508.64 353.04 L509.92 351.98 L511.20 350.88 L512.48 349.75 L513.76 348.58 L515.03 347.39 L516.31 346.16 L517.59 344.90 L518.87 343.61 L520.15 342.29 L521.43 340.94 L522.71 339.56 L523.99 338.16 L525.26 336.73 L526.54 335.28 L527.82 333.80 L529.10 332.31 L530.38 330.80 L531.66 329.28 L532.94 327.74 L534.22 326.20 L535.49 324.65 L536.77 323.10 L538.05 321.56 L539.33 320.02 L540.61 318.50 L541.89 316.99 L543.17 315.51 L544.45 314.05 L545.72 312.63 L547.00 311.26 L548.28 309.93 L549.56 308.65 L550.84 307.44 L552.12 306.30 L553.40 305.25 L554.68 304.27 L555.95 303.40 L557.23 302.63 L558.51 301.97 L559.79 301.44 L561.07 301.03 L562.35 300.77 L563.63 300.65 L564.91 300.69 L566.19 300.89 L567.46 301.26 L568.74 301.80 L570.02 302.51 L571.30 303.40 L572.58 304.47 L573.86 305.71 L575.14 307.12 L576.42 308.69 L577.69 310.42 L578.97 312.30 L580.25 314.32 L581.53 316.45 L582.81 318.70 L584.09 321.03 L585.37 323.44 L586.65 325.90 L587.92 328.40 L589.20 330.92 L590.48 333.44 L591.76 335.95 L593.04 338.42 L594.32 340.86 L595.60 343.23 L596.88 345.54 L598.15 347.77 L599.43 349.92 L600.71 351.97 L601.99 353.93 L603.27 355.79 L604.55 357.55 L605.83 359.21 L607.11 360.76 L608.38 362.22 L609.66 363.58 L610.94 364.85 L612.22 366.03 L613.50 367.13 L614.78 368.14 L616.06 369.07 L617.34 369.94 L618.61 370.73 L619.89 371.46 L621.17 372.12 L622.45 372.74 L623.73 373.30 L625.01 373.81 L626.29 374.27 L627.57 374.70 L628.84 375.09 L630.12 375.44 L631.40 375.76 L632.68 376.05 L633.96 376.32 L635.24 376.56 L636.52 376.78 L637.80 376.98 L639.07 377.16 L640.35 377.32 L641.63 377.47 L642.91 377.60 L644.19 377.72 L645.47 377.83 L646.75 377.93 L648.03 378.01 L649.30 378.09 L650.58 378.17 L651.86 378.23 L653.14 378.29 L654.42 378.34 L655.70 378.39"/>
<path class="c" stroke="#1b8c1a" d="M476.67 378.77 L477.95 378.77 L479.23 378.76 L480.51 378.76 L481.79 378.76 L483.07 378.75 L484.34 378.75 L485.62 378.74 L486.90 378.74 L488.18 378.73 L489.46 378.72 L490.74 378.71 L492.02 378.71 L493.30 378.70 L494.57 378.69 L495.85 378.67 L497.13 378.66 L498.41 378.65 L499.69 378.63 L500.97 378.62 L502.25 378.60 L503.53 378.58 L504.80 378.56 L506.08 378.54 L507.36 378.51 L508.64 378.48 L509.92 378.45 L511.20 378.42 L512.48 378.39 L513.76 378.35 L515.03 378.30 L516.31 378.26 L517.59 378.21 L518.87 378.16 L520.15 378.10 L521.43 378.03 L522.71 377.97 L523.99 377.89 L525.26 377.81 L526.54 377.72 L527.82 377.63 L529.10 377.53 L530.38 377.42 L531.66 377.30 L532.94 377.18 L534.22 377.04 L535.49 376.90 L536.77 376.75 L538.05 376.58 L539.33 376.40 L540.61 376.22 L541.89 376.02 L543.17 375.80 L544.45 375.58 L545.72 375.34 L547.00 375.08 L548.28 374.82 L549.56 374.53 L550.84 374.24 L552.12 373.93 L553.40 373.60 L554.68 373.26 L555.95 372.91 L557.23 372.55 L558.51 372.17 L559.79 371.78 L561.07 371.38 L562.35 370.98 L563.63 370.56 L564.91 370.15 L566.19 369.73 L567.46 369.30 L568.74 368.89 L570.02 368.48 L571.30 368.07 L572.58 367.68 L573.86 367.31 L575.14 366.95 L576.42 366.62 L577.69 366.31 L578.97 366.03 L580.25 365.78 L581.53 365.57 L582.81 365.39 L584.09 365.25 L585.37 365.15 L586.65 365.09 L587.92 365.06 L589.20 365.08 L590.48 365.14 L591.76 365.23 L593.04 365.36 L594.32 365.52 L595.60 365.72 L596.88 365.94 L598.15 366.18 L599.43 366.45 L600.71 366.74 L601.99 367.05 L603.27 367.37 L604.55 367.71 L605.83 368.05 L607.11 368.39 L608.38 368.74 L609.66 369.10 L610.94 369.45 L612.22 369.80 L613.50 370.15 L614.78 370.50 L616.06 370.84 L617.34 371.17 L618.61 371.50 L619.89 371.81 L621.17 372.12 L622.45 372.42 L623.73 372.72 L625.01 373.00 L626.29 373.27 L627.57 373.53 L628.84 373.79 L630.12 374.03 L631.40 374.27 L632.68 374.49 L633.96 374.71 L635.24 374.92 L636.52 375.12 L637.80 375.31 L639.07 375.49 L640.35 375.66 L641.63 375.83 L642.91 375.99 L644.19 376.14 L645.47 376.29 L646.75 376.42 L648.03 376.55 L649.30 376.68 L650.58 376.80 L651.86 376.91 L653.14 377.02 L654.42 377.12 L655.70 377.22"/>
<path class="c" stroke="#c90d13" d="M476.67 378.80 L477.95 378.80 L479.23 378.80 L480.51 378.80 L481.79 378.80 L483.07 378.80 L484.34 378.80 L485.62 378.79 L486.90 378.79 L488.18 378.79 L489.46 378.79 L490.74 378.79 L492.02 378.79 L493.30 378.79 L494.57 378.79 L495.85 378.78 L497.13 378.78 L498.41 378.78 L499.69 378.77 L500.97 378.77 L502.25 378.77 L503.53 378.76 L504.80 378.75 L506.08 378.75 L507.36 378.74 L508.64 378.73 L509.92 378.72 L511.20 378.71 L512.48 378.69 L513.76 378.68 L515.03 378.66 L516.31 378.64 L517.59 378.61 L518.87 378.59 L520.15 378.55 L521.43 378.52 L522.71 378.48 L523.99 378.43 L525.26 378.38 L526.54 378.32 L527.82 378.25 L529.10 378.17 L530.38 378.08 L531.66 377.98 L532.94 377.86 L534.22 377.74 L535.49 377.59 L536.77 377.42 L538.05 377.24 L539.33 377.03 L540.61 376.79 L541.89 376.52 L543.17 376.22 L544.45 375.88 L545.72 375.51 L547.00 375.08 L548.28 374.61 L549.56 374.09 L550.84 373.50 L552.12 372.85 L553.40 372.13 L554.68 371.33 L555.95 370.45 L557.23 369.47 L558.51 368.40 L559.79 367.23 L561.07 365.95 L562.35 364.55 L563.63 363.02 L564.91 361.37 L566.19 359.59 L567.46 357.67 L568.74 355.61 L570.02 353.41 L571.30 351.06 L572.58 348.58 L573.86 345.96 L575.14 343.20 L576.42 340.32 L577.69 337.33 L578.97 334.23 L580.25 331.03 L581.53 327.76 L582.81 324.42 L584.09 321.03 L585.37 317.62 L586.65 314.19 L587.92 310.77 L589.20 307.37 L590.48 304.02 L591.76 300.72 L593.04 297.49 L594.32 294.36 L595.60 291.32 L596.88 288.39 L598.15 285.59 L599.43 282.91 L600.71 280.36 L601.99 277.94 L603.27 275.67 L604.55 273.53 L605.83 271.54 L607.11 269.68 L608.38 267.96 L609.66 266.38 L610.94 264.92 L612.22 263.59 L613.50 262.38 L614.78 261.29 L616.06 260.32 L617.34 259.45 L618.61 258.69 L619.89 258.03 L621.17 257.46 L622.45 256.99 L623.73 256.60 L625.01 256.30 L626.29 256.08 L627.57 255.93 L628.84 255.86 L630.12 255.86 L631.40 255.93 L632.68 256.06 L633.96 256.26 L635.24 256.52 L636.52 256.84 L637.80 257.22 L639.07 257.66 L640.35 258.15 L641.63 258.70 L642.91 259.30 L644.19 259.95 L645.47 260.65 L646.75 261.40 L648.03 262.20 L649.30 263.05 L650.58 263.95 L651.86 264.90 L653.14 265.89 L654.42 266.93 L655.70 268.01"/>
<path class="c" stroke="#7e4ab2" d="M476.67 378.80 L477.95 378.80 L479.23 378.80 L480.51 378.80 L481.79 378.80 L483.07 378.80 L484.34 378.80 L485.62 378.80 L486.90 378.80 L488.18 378.80 L489.46 378.80 L490.74 378.80 L492.02 378.80 L493.30 378.80 L494.57 378.80 L495.85 378.80 L497.13 378.80 L498.41 378.80 L499.69 378.80 L500.97 378.80 L502.25 378.80 L503.53 378.80 L504.80 378.80 L506.08 378.80 L507.36 378.80 L508.64 378.80 L509.92 378.80 L511.20 378.80 L512.48 378.80 L513.76 378.80 L515.03 378.80 L516.31 378.80 L517.59 378.80 L518.87 378.80 L520.15 378.80 L521.43 378.80 L522.71 378.80 L523.99 378.80 L525.26 378.80 L526.54 378.80 L527.82 378.80 L529.10 378.80 L530.38 378.80 L531.66 378.80 L532.94 378.80 L534.22 378.80 L535.49 378.80 L536.77 378.80 L538.05 378.80 L539.33 378.79 L540.61 378.79 L541.89 378.79 L543.17 378.79 L544.45 378.79 L545.72 378.79 L547.00 378.79 L548.28 378.78 L549.56 378.78 L550.84 378.78 L552.12 378.77 L553.40 378.77 L554.68 378.76 L555.95 378.75 L557.23 378.74 L558.51 378.73 L559.79 378.72 L561.07 378.71 L562.35 378.70 L563.63 378.68 L564.91 378.66 L566.19 378.64 L567.46 378.61 L568.74 378.58 L570.02 378.55 L571.30 378.51 L572.58 378.47 L573.86 378.42 L575.14 378.37 L576.42 378.31 L577.69 378.25 L578.97 378.18 L580.25 378.10 L581.53 378.01 L582.81 377.92 L584.09 377.81 L585.37 377.70 L586.65 377.58 L587.92 377.45 L589.20 377.31 L590.48 377.16 L591.76 377.00 L593.04 376.83 L594.32 376.65 L595.60 376.46 L596.88 376.25 L598.15 376.04 L599.43 375.82 L600.71 375.58 L601.99 375.33 L603.27 375.07 L604.55 374.80 L605.83 374.51 L607.11 374.22 L608.38 373.91 L609.66 373.58 L610.94 373.24 L612.22 372.89 L613.50 372.52 L614.78 372.14 L616.06 371.74 L617.34 371.32 L618.61 370.89 L619.89 370.44 L621.17 369.97 L622.45 369.48 L623.73 368.97 L625.01 368.44 L626.29 367.89 L627.57 367.31 L628.84 366.72 L630.12 366.10 L631.40 365.46 L632.68 364.79 L633.96 364.09 L635.24 363.37 L636.52 362.62 L637.80 361.85 L639.07 361.04 L640.35 360.21 L641.63 359.34 L642.91 358.44 L644.19 357.52 L645.47 356.56 L646.75 355.57 L648.03 354.54 L649.30 353.48 L650.58 352.39 L651.86 351.27 L653.14 350.11 L654.42 348.91 L655.70 347.69"/>
<path class="c" stroke="#783d33" d="M476.67 371.12 L477.95 370.79 L479.23 370.44 L480.51 370.09 L481.79 369.72 L483.07 369.34 L484.34 368.95 L485.62 368.54 L486.90 368.12 L488.18 367.69 L489.46 367.25 L490.74 366.79 L492.02 366.33 L493.30 365.85 L494.57 365.35 L495.85 364.85 L497.13 364.33 L498.41 363.80 L499.69 363.26 L500.97 362.71 L502.25 362.14 L503.53 361.57 L504.80 360.98 L506.08 360.39 L507.36 359.78 L508.64 359.16 L509.92 358.54 L511.20 357.90 L512.48 357.26 L513.76 356.60 L515.03 355.94 L516.31 355.26 L517.59 354.58 L518.87 353.89 L520.15 353.19 L521.43 352.48 L522.71 351.76 L523.99 351.02 L525.26 350.28 L526.54 349.52 L527.82 348.75 L529.10 347.97 L530.38 347.16 L531.66 346.34 L532.94 345.50 L534.22 344.64 L535.49 343.75 L536.77 342.84 L538.05 341.89 L539.33 340.92 L540.61 339.91 L541.89 338.86 L543.17 337.78 L544.45 336.65 L545.72 335.49 L547.00 334.27 L548.28 333.02 L549.56 331.71 L550.84 330.36 L552.12 328.97 L553.40 327.54 L554.68 326.06 L555.95 324.56 L557.23 323.02 L558.51 321.46 L559.79 319.89 L561.07 318.31 L562.35 316.74 L563.63 315.18 L564.91 313.64 L566.19 312.14 L567.46 310.69 L568.74 309.30 L570.02 307.98 L571.30 306.74 L572.58 305.59 L573.86 304.55 L575.14 303.62 L576.42 302.81 L577.69 302.12 L578.97 301.58 L580.25 301.17 L581.53 300.90 L582.81 300.79 L584.09 300.83 L585.37 301.02 L586.65 301.36 L587.92 301.86 L589.20 302.51 L590.48 303.31 L591.76 304.26 L593.04 305.35 L594.32 306.58 L595.60 307.95 L596.88 309.43 L598.15 311.03 L599.43 312.73 L600.71 314.52 L601.99 316.39 L603.27 318.33 L604.55 320.32 L605.83 322.34 L607.11 324.40 L608.38 326.46 L609.66 328.51 L610.94 330.55 L612.22 332.55 L613.50 334.51 L614.78 336.41 L616.06 338.25 L617.34 340.01 L618.61 341.70 L619.89 343.29 L621.17 344.79 L622.45 346.20 L623.73 347.50 L625.01 348.71 L626.29 349.82 L627.57 350.83 L628.84 351.74 L630.12 352.56 L631.40 353.28 L632.68 353.92 L633.96 354.47 L635.24 354.94 L636.52 355.34 L637.80 355.66 L639.07 355.92 L640.35 356.11 L641.63 356.24 L642.91 356.31 L644.19 356.33 L645.47 356.31 L646.75 356.25 L648.03 356.14 L649.30 356.00 L650.58 355.83 L651.86 355.63 L653.14 355.41 L654.42 355.16 L655.70 354.90"/>
<path d="M468.07 236.86V385.35H664.3V236.86Z" fill="none" stroke="#5e5e5e" stroke-width="1"/>
<path d="M489.46 385.35V389.05" stroke="#383838" stroke-width="1.3" fill="none"/>
<text class="tk" x="489.46" y="401.6" text-anchor="middle">-3</text>
<path d="M515.03 385.35V389.05" stroke="#383838" stroke-width="1.3" fill="none"/>
<text class="tk" x="515.03" y="401.6" text-anchor="middle">-2</text>
<path d="M540.61 385.35V389.05" stroke="#383838" stroke-width="1.3" fill="none"/>
<text class="tk" x="540.61" y="401.6" text-anchor="middle">-1</text>
<path d="M566.19 385.35V389.05" stroke="#383838" stroke-width="1.3" fill="none"/>
<text class="tk" x="566.19" y="401.6" text-anchor="middle">0</text>
<path d="M591.76 385.35V389.05" stroke="#383838" stroke-width="1.3" fill="none"/>
<text class="tk" x="591.76" y="401.6" text-anchor="middle">1</text>
<path d="M617.34 385.35V389.05" stroke="#383838" stroke-width="1.3" fill="none"/>
<text class="tk" x="617.34" y="401.6" text-anchor="middle">2</text>
<path d="M642.91 385.35V389.05" stroke="#383838" stroke-width="1.3" fill="none"/>
<text class="tk" x="642.91" y="401.6" text-anchor="middle">3</text>
<path d="M114.8 453.9H161" stroke="#125fa4" stroke-width="2.25" fill="none"/>
<text class="t" x="173.5" y="458.6">1</text>
<path d="M193 453.9H239.2" stroke="#ff6403" stroke-width="2.25" fill="none"/>
<text class="t" x="251.7" y="458.6">2</text>
<path d="M271.2 453.9H317.4" stroke="#1b8c1a" stroke-width="2.25" fill="none"/>
<text class="t" x="329.9" y="458.6">3</text>
<path d="M349.4 453.9H395.6" stroke="#c90d13" stroke-width="2.25" fill="none"/>
<text class="t" x="408.1" y="458.6">4</text>
<path d="M427.6 453.9H473.8" stroke="#7e4ab2" stroke-width="2.25" fill="none"/>
<text class="t" x="486.3" y="458.6">5</text>
<path d="M505.8 453.9H552" stroke="#783d33" stroke-width="2.25" fill="none"/>
<text class="t" x="564.5" y="458.6">Reliability</text>
</svg></body></html>
